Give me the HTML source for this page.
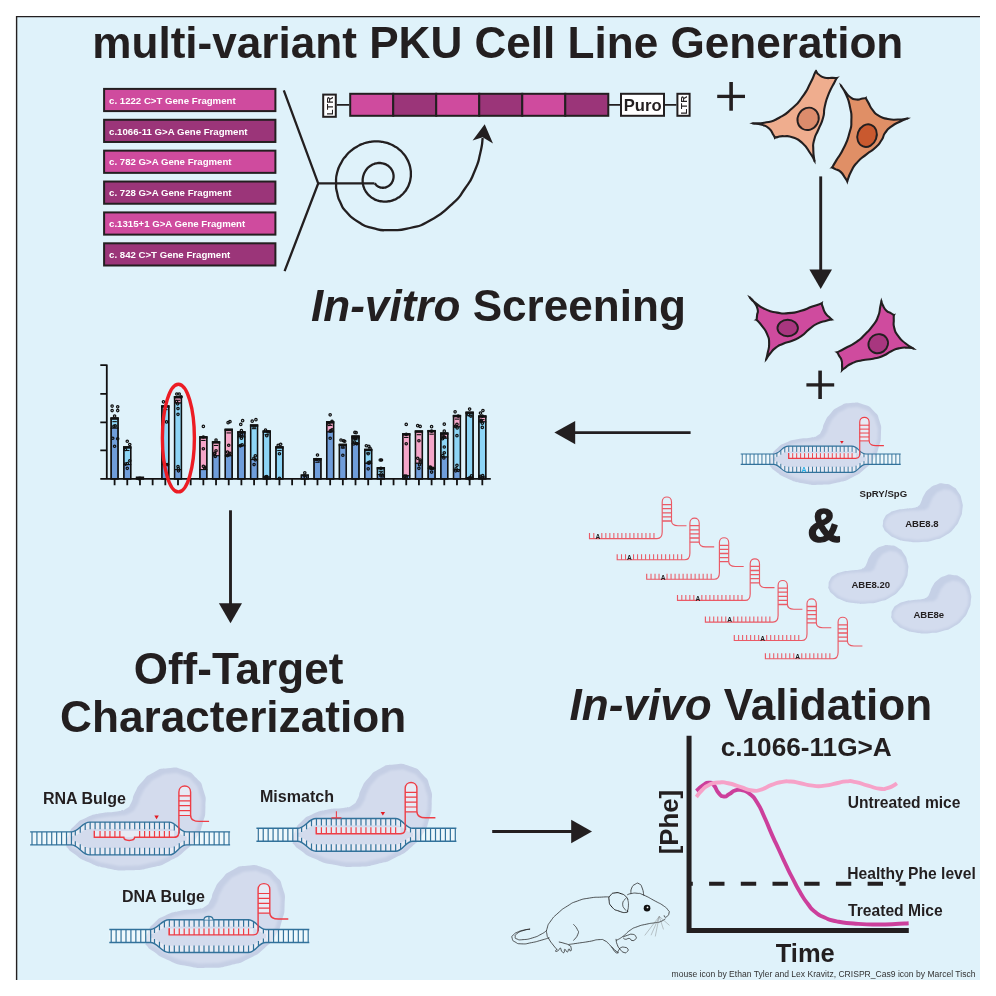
<!DOCTYPE html>
<html lang="en"><head><meta charset="utf-8"><title>multi-variant PKU Cell Line Generation</title>
<style>html,body{margin:0;padding:0;background:#fff}body{width:996px;height:996px;overflow:hidden}svg{display:block}text{font-family:"Liberation Sans",Arial,Helvetica,sans-serif}.b{font-weight:bold}.bi{font-weight:bold;font-style:italic}</style></head><body>
<svg width="996" height="996" viewBox="0 0 996 996">
<defs><filter id="bl" x="-10%" y="-10%" width="120%" height="120%"><feGaussianBlur stdDeviation="1.1"/></filter></defs>
<rect x="16" y="16" width="964" height="964" fill="#dff2fa"/>
<path d="M16.6 980V16.6H980" fill="none" stroke="#231f20" stroke-width="1.4"/>
<text class="b" x="92.3" y="58.4" font-size="44.1" fill="#231f20">multi-variant PKU Cell Line Generation</text>
<text x="311" y="320.6" font-size="44.1" fill="#231f20"><tspan class="bi">In-vitro</tspan><tspan class="b"> Screening</tspan></text>
<text class="b" x="133.7" y="684.1" font-size="44.05" fill="#231f20">Off-Target</text>
<text class="b" x="60.1" y="731.5" font-size="44.18" fill="#231f20">Characterization</text>
<text x="569.5" y="720" font-size="44.1" fill="#231f20"><tspan class="bi">In-vivo</tspan><tspan class="b"> Validation</tspan></text>
<rect x="104.1" y="88.9" width="171.3" height="22.2" fill="#cf4b9e" stroke="#231f20" stroke-width="2"/>
<text class="b" x="109.1" y="103.65" font-size="9.65" fill="#fff">c. 1222 C&gt;T Gene Fragment</text>
<rect x="104.1" y="119.78" width="171.3" height="22.2" fill="#9b3579" stroke="#231f20" stroke-width="2"/>
<text class="b" x="109.1" y="134.53" font-size="9.65" fill="#fff">c.1066-11 G&gt;A Gene Fragment</text>
<rect x="104.1" y="150.66" width="171.3" height="22.2" fill="#cf4b9e" stroke="#231f20" stroke-width="2"/>
<text class="b" x="109.1" y="165.41" font-size="9.65" fill="#fff">c. 782 G&gt;A Gene Fragment</text>
<rect x="104.1" y="181.54" width="171.3" height="22.2" fill="#9b3579" stroke="#231f20" stroke-width="2"/>
<text class="b" x="109.1" y="196.29" font-size="9.65" fill="#fff">c. 728 G&gt;A Gene Fragment</text>
<rect x="104.1" y="212.42" width="171.3" height="22.2" fill="#cf4b9e" stroke="#231f20" stroke-width="2"/>
<text class="b" x="109.1" y="227.17" font-size="9.65" fill="#fff">c.1315+1 G&gt;A Gene Fragment</text>
<rect x="104.1" y="243.3" width="171.3" height="22.2" fill="#9b3579" stroke="#231f20" stroke-width="2"/>
<text class="b" x="109.1" y="258.05" font-size="9.65" fill="#fff">c. 842 C&gt;T Gene Fragment</text>
<path d="M283.8 90.4L318.2 183.4L284.6 271.2M318.2 183.4H374.5" fill="none" stroke="#231f20" stroke-width="2.3" stroke-linejoin="miter"/>
<path d="M374.87 183.28C375.16 183.69 375.08 183.74 375.73 184.51C376.38 185.28 376.02 184.93 376.82 185.6C377.61 186.26 377.19 185.97 378.11 186.5C379.02 187.03 378.55 186.81 379.57 187.19C380.59 187.56 380.07 187.42 381.17 187.61C382.26 187.81 381.72 187.76 382.86 187.76C384 187.76 383.44 187.82 384.59 187.61C385.74 187.41 385.19 187.56 386.31 187.15C387.44 186.74 386.91 187 387.97 186.38C389.03 185.77 388.54 186.12 389.51 185.31C390.47 184.5 390.03 184.94 390.86 183.95C391.69 182.96 391.33 183.49 391.99 182.34C392.65 181.19 392.38 181.79 392.85 180.51C393.31 179.24 393.14 179.88 393.38 178.51C393.62 177.15 393.57 177.83 393.57 176.4C393.57 174.98 393.64 175.68 393.38 174.24C393.13 172.8 393.32 173.49 392.81 172.09C392.29 170.68 392.61 171.35 391.84 170.02C391.08 168.69 391.51 169.31 390.5 168.1C389.49 166.9 390.04 167.44 388.81 166.4C387.57 165.37 388.23 165.82 386.8 164.99C385.36 164.17 386.1 164.51 384.51 163.93C382.92 163.35 383.73 163.56 382.02 163.26C380.31 162.96 381.16 163.02 379.38 163.02C377.6 163.03 378.47 162.94 376.68 163.26C374.88 163.58 375.75 163.34 373.99 163.98C372.23 164.62 373.07 164.22 371.41 165.18C369.75 166.14 370.52 165.59 369.01 166.86C367.51 168.12 368.19 167.43 366.89 168.97C365.6 170.52 366.16 169.7 365.13 171.49C364.1 173.27 364.52 172.35 363.8 174.34C363.08 176.33 363.34 175.32 362.96 177.45C362.59 179.59 362.67 178.52 362.67 180.75C362.67 182.97 362.57 181.88 362.96 184.12C363.36 186.37 363.06 185.28 363.86 187.48C364.66 189.67 364.17 188.63 365.36 190.71C366.56 192.78 365.88 191.82 367.46 193.7C369.03 195.58 368.17 194.73 370.1 196.34C372.03 197.96 371.01 197.26 373.24 198.55C375.47 199.83 374.32 199.31 376.8 200.21C379.28 201.11 378.02 200.79 380.69 201.25C383.36 201.72 382.03 201.62 384.81 201.62C387.58 201.62 386.22 201.75 389.02 201.25C391.83 200.76 390.47 201.13 393.21 200.13C395.96 199.13 394.66 199.75 397.25 198.25C399.84 196.76 398.63 197.61 400.98 195.64C403.33 193.67 402.27 194.75 404.29 192.34C406.31 189.93 405.43 191.21 407.04 188.42C408.65 185.63 407.99 187.07 409.12 183.97C410.24 180.87 409.83 182.44 410.42 179.11C411.01 175.78 410.87 177.44 410.87 173.97C410.87 170.5 411.03 172.21 410.42 168.7C409.8 165.2 410.26 166.89 409.02 163.47C407.77 160.05 408.54 161.67 406.67 158.43C404.8 155.2 405.87 156.7 403.41 153.77C400.95 150.84 402.29 152.16 399.29 149.64C396.28 147.12 397.87 148.21 394.39 146.2C390.9 144.19 392.71 145.02 388.83 143.61C384.96 142.2 386.92 142.71 382.76 141.98C378.6 141.25 380.68 141.41 376.34 141.41C372.01 141.41 374.14 141.21 369.77 141.98C365.39 142.76 367.5 142.17 363.23 143.73C358.95 145.29 360.98 144.33 356.94 146.66C352.9 148.99 354.77 147.66 351.11 150.74C347.45 153.81 349.1 152.13 345.95 155.89C342.8 159.64 344.54 156.63 341.66 162C338.78 167.38 339.15 164.9 337.3 172C335.45 179.1 336.13 176.3 336.1 183.3C336.07 190.3 335.7 186.43 337.2 193C338.7 199.57 337.5 196.67 340.6 203C343.7 209.33 340.7 205.73 346.5 212C352.3 218.27 349.17 216.4 358 221.8C366.83 227.2 362.23 225.43 373 228.2C383.77 230.97 377.97 230.17 390.3 230.1C402.63 230.03 396.77 231.2 410 228C423.23 224.8 416.47 228.03 430 220.5C443.53 212.97 438.93 216.07 450.6 205.4C462.27 194.73 456.97 199.97 465 188.5C473.03 177.03 469.6 182.83 474.7 171C479.8 159.17 477.63 164 480.3 153C482.97 142 481.9 143 482.7 138" fill="none" stroke="#231f20" stroke-width="2.3"/>
<path d="M484.7 124.2L493 143.6L482.6 137.2L472.6 140.6Z" fill="#231f20"/>
<rect x="350.2" y="93.8" width="43.02" height="22" fill="#cf4b9e" stroke="#231f20" stroke-width="2"/>
<rect x="393.22" y="93.8" width="43.02" height="22" fill="#9b3579" stroke="#231f20" stroke-width="2"/>
<rect x="436.23" y="93.8" width="43.02" height="22" fill="#cf4b9e" stroke="#231f20" stroke-width="2"/>
<rect x="479.25" y="93.8" width="43.02" height="22" fill="#9b3579" stroke="#231f20" stroke-width="2"/>
<rect x="522.27" y="93.8" width="43.02" height="22" fill="#cf4b9e" stroke="#231f20" stroke-width="2"/>
<rect x="565.28" y="93.8" width="43.02" height="22" fill="#9b3579" stroke="#231f20" stroke-width="2"/>
<path d="M336.8 104.9H349.4M608.4 104.9H620.4M664.7 104.9H676.4" stroke="#231f20" stroke-width="1.9" fill="none"/>
<rect x="323.2" y="94.6" width="12.6" height="22.2" fill="#fff" stroke="#231f20" stroke-width="2"/>
<text class="b" transform="translate(333 115.2) rotate(-90)" font-size="9.6" letter-spacing="0.3" fill="#231f20">LTR</text>
<rect x="621" y="93.8" width="43" height="22" fill="#fff" stroke="#231f20" stroke-width="2"/>
<text class="b" x="623.8" y="110.9" font-size="16.6" fill="#231f20">Puro</text>
<rect x="677.4" y="93.8" width="12.2" height="22" fill="#fff" stroke="#231f20" stroke-width="2"/>
<text class="b" transform="translate(686.9 114.4) rotate(-90)" font-size="9.6" letter-spacing="0.3" fill="#231f20">LTR</text>
<path d="M717.2 96.4H745" stroke="#231f20" stroke-width="3.3" fill="none"/><path d="M731.1 82V110.7" stroke="#231f20" stroke-width="3.6" fill="none"/>
<path d="M806.4 384.9H834.2" stroke="#231f20" stroke-width="3.3" fill="none"/><path d="M820.1 370.6V399" stroke="#231f20" stroke-width="3.6" fill="none"/>
<path d="M753.23 123.4C757.67 123.04 757.88 124.22 766.55 122.33C775.22 120.43 770.78 122.33 779.24 117.71C787.71 113.09 784.24 115.4 791.94 108.48C799.63 101.55 796.17 105.4 802.33 96.93C808.48 88.47 806.25 90.97 810.41 83.08C814.56 75.2 812.86 77.19 814.79 73.27C816.72 69.35 815.73 71.97 816.19 71.32C817.15 72.47 816.18 72.66 819.06 74.77C821.94 76.89 820.41 76.62 824.83 77.66C829.26 78.7 828.44 77.74 832.34 77.89C836.23 78.04 835.13 78.04 836.52 78.11C835.9 79.39 837.19 76.81 834.64 81.93C832.1 87.05 832.14 85.39 828.87 93.47C825.6 101.55 826.76 98.09 824.83 106.17C822.91 114.25 825.22 110.02 823.1 117.71C820.99 125.4 821.45 121.94 818.49 129.25C815.52 136.56 815.95 132.71 814.22 139.64C812.48 146.57 813.22 143.03 813.29 150.03C813.36 157.03 814.04 157.1 814.42 160.63C813.08 158.25 814.44 159.33 810.41 153.49C806.38 147.65 808.1 148.41 802.33 143.1C796.56 137.79 799.25 139.87 793.09 137.56C786.94 135.25 789.05 136.33 783.86 136.18C778.67 136.02 780.5 136.6 777.51 137.1C774.52 137.6 775.77 137.48 774.9 137.67C774.42 136.79 775.49 138.14 773.47 135.02C771.46 131.91 772.7 131.71 768.86 128.33C765.01 124.94 767.14 126.51 761.93 124.87C756.72 123.22 756.13 123.89 753.23 123.4Z" fill="#efad8e" stroke="#231f20" stroke-width="2.1" stroke-linejoin="round"/>
<path d="M749.23 123.25L753.19 124.45L753.27 122.35ZM815.95 69.23L815.15 71.44L817.23 71.2ZM839.84 76.16L835.99 77.21L837.05 79.02ZM815.6 164.46L815.42 160.32L813.41 160.95ZM774.05 139.64L775.86 138.08L773.93 137.25Z" fill="#231f20"/>
<ellipse cx="808.1" cy="118.86" rx="10.39" ry="11.43" transform="rotate(30 808.1 118.86)" fill="#dc8c6c" stroke="#231f20" stroke-width="1.9"/>
<path d="M841.21 85.93C842.5 87.73 842.13 87.65 845.09 91.33C848.06 95.01 846.35 94.26 850.11 96.98C853.88 99.69 852.2 98.98 856.39 99.49C860.57 99.99 859.53 98.89 862.66 98.48C865.79 98.07 864.74 98.33 865.78 98.25C866.62 99.71 866 98.66 868.31 102.62C870.61 106.59 869.14 105.76 872.7 110.15C876.25 114.54 873.95 112.87 878.97 115.8C883.99 118.72 881.48 117.68 887.75 118.93C894.03 120.19 891.35 119.66 897.79 119.56C904.23 119.46 903.98 118.94 907.08 118.63C904.82 119.57 905.49 118.83 900.3 121.44C895.11 124.05 896.54 122.7 891.52 126.46C886.5 130.23 888.59 128.13 885.24 132.74C881.9 137.34 884.83 135.24 881.48 140.26C878.13 145.28 880.23 143.11 875.21 147.79C870.19 152.48 872.28 149.63 866.42 154.32C860.57 159 862.66 156.28 857.64 161.84C852.62 167.41 854.82 164.56 851.37 171C847.92 177.45 848.65 177.78 847.29 181.18C846.56 180.09 847.29 181 845.09 177.9C842.9 174.81 843.96 174.81 840.7 171.88C837.44 168.95 838.15 170.62 835.31 169.12C832.46 167.62 833.21 167.97 832.16 167.39C833.55 165.04 832.42 166.87 836.31 160.34C840.2 153.81 839.45 156.99 843.84 147.79C848.23 138.59 846.98 141.94 849.49 132.74C851.99 123.53 851.16 128.55 851.37 120.19C851.58 111.82 851.79 116.01 850.11 107.64C848.44 99.28 849.32 102.33 846.35 95.09C843.38 87.86 842.92 88.98 841.21 85.93Z" fill="#e08f66" stroke="#231f20" stroke-width="2.1" stroke-linejoin="round"/>
<path d="M839.07 82.55L840.32 86.49L842.1 85.37ZM866.68 96.1L864.81 97.85L866.75 98.66ZM910.97 117.68L906.83 117.61L907.33 119.65ZM847.35 184.81L848.34 181.16L846.24 181.19ZM829.41 168.49L832.55 168.37L831.77 166.42Z" fill="#231f20"/>
<ellipse cx="867.05" cy="135.62" rx="9.54" ry="11.54" transform="rotate(20 867.05 135.62)" fill="#c9592f" stroke="#231f20" stroke-width="1.9"/>
<path d="M750.03 297.7C751.7 299.32 750.04 298.77 755.06 302.57C760.09 306.37 757.74 305.75 765.1 309.1C772.46 312.44 769.45 311.27 777.15 312.61C784.85 313.95 780.5 313.61 788.19 313.11C795.89 312.61 792.21 313.28 800.24 311.1C808.27 308.93 805.17 309.13 812.29 306.59C819.41 304.04 818.5 304.5 821.6 303.46C822.01 304.67 821.59 303.87 822.83 307.09C824.08 310.3 823.17 309.77 825.34 313.11C827.52 316.46 827.29 315.02 829.36 317.13C831.42 319.24 830.81 318.67 831.53 319.45C829.8 319.85 831.09 319.24 826.35 320.64C821.6 322.04 823 320.81 817.31 323.65C811.62 326.5 814.63 324.99 809.28 329.18C803.92 333.36 806.93 332.36 801.24 336.2C795.56 340.05 798.23 338.21 792.21 340.72C786.18 343.23 788.53 341.49 783.17 343.73C777.82 345.98 780.5 344.2 776.14 347.45C771.79 350.7 773.43 349.57 770.12 353.47C766.82 357.38 767.53 357.26 766.23 359.16C766.69 357.2 766.65 358.58 767.61 353.27C768.57 347.96 769.28 349.59 769.12 343.23C768.95 336.87 769.45 339.89 767.11 334.2C764.77 328.51 765.58 330.98 762.09 326.16C758.6 321.35 758.46 321.89 756.64 319.75C756.79 318.21 756.76 318.67 757.07 315.12C757.38 311.57 758.57 313.45 757.57 309.1C756.57 304.75 756.57 305.87 754.06 302.07C751.54 298.27 751.37 299.16 750.03 297.7Z" fill="#cf4b9e" stroke="#231f20" stroke-width="2.1" stroke-linejoin="round"/>
<path d="M747.23 294.84L749.28 298.43L750.78 296.96ZM823.33 300.86L820.73 302.88L822.48 304.05ZM834.38 320.14L831.78 318.43L831.28 320.47ZM764.6 362.81L767.19 359.59L765.27 358.73ZM753.55 320.34L756.84 320.78L756.45 318.72Z" fill="#231f20"/>
<ellipse cx="787.69" cy="327.97" rx="10.24" ry="8.23" transform="rotate(0 787.69 327.97)" fill="#a8367f" stroke="#231f20" stroke-width="1.9"/>
<path d="M881.4 301.37C881.85 302.6 881.12 301.99 882.73 305.06C884.35 308.13 883.57 307.9 886.24 310.58C888.92 313.26 888.23 311.61 890.76 313.09C893.29 314.58 892.81 314.39 893.83 315.03C893.81 316.73 893.63 315.75 893.78 320.12C893.92 324.49 892.77 322.8 894.28 328.15C895.78 333.51 894.61 331.16 898.29 336.18C901.97 341.2 900.36 339.14 905.32 343.21C910.28 347.29 910.55 346.68 913.17 348.42C911.56 348.19 912.96 347.79 908.33 347.73C903.71 347.67 904.99 347.06 899.3 348.23C893.61 349.4 896.62 348.73 891.27 351.24C885.91 353.76 889.26 353.25 883.23 355.76C877.21 358.27 880.22 357.27 873.19 358.78C866.16 360.28 869.18 358.78 862.15 360.28C855.12 361.79 857.8 360.78 852.11 363.29C846.42 365.8 848.41 365.57 845.08 367.81C841.75 370.05 843.1 369.27 842.11 370.01C842.1 368.77 842.25 369.55 842.07 366.31C841.89 363.06 842.57 363.8 841.57 360.28C840.56 356.77 840.47 358.41 839.06 355.76C837.64 353.12 837.9 353.48 837.32 352.34C839.9 350.97 838.81 351.61 845.08 348.23C851.35 344.86 849.43 346.89 856.12 342.21C862.82 337.52 859.47 339.87 865.16 334.18C870.85 328.49 868.84 331.16 873.19 325.14C877.54 319.12 875.87 322.13 878.21 316.1C880.56 310.08 879.16 311.98 880.22 307.07C881.28 302.16 881.01 303.27 881.4 301.37Z" fill="#cf4b9e" stroke="#231f20" stroke-width="2.1" stroke-linejoin="round"/>
<path d="M881.22 297.53L880.35 301.41L882.45 301.32ZM896.08 313.59L893.27 314.15L894.4 315.92ZM916.87 349.94L913.57 347.45L912.77 349.39ZM840.56 373.13L843.05 370.47L841.17 369.54ZM834.24 351.75L837.12 353.37L837.52 351.31Z" fill="#231f20"/>
<ellipse cx="878.21" cy="343.71" rx="10.04" ry="9.34" transform="rotate(-35 878.21 343.71)" fill="#a8367f" stroke="#231f20" stroke-width="1.9"/>
<path d="M820.7 176.4V272" stroke="#231f20" stroke-width="2.9" fill="none"/>
<path d="M809.4 269.6H832L820.7 289Z" fill="#231f20"/>
<path d="M690.6 432.6H573" stroke="#231f20" stroke-width="2.9" fill="none"/>
<path d="M575.2 420.9V444.3L554.4 432.6Z" fill="#231f20"/>
<path d="M230.5 510.3V605" stroke="#231f20" stroke-width="2.9" fill="none"/>
<path d="M218.9 603.3H242L230.5 623.3Z" fill="#231f20"/>
<path d="M492.2 831.5H573" stroke="#231f20" stroke-width="2.9" fill="none"/>
<path d="M571.2 819.8V843.3L592 831.5Z" fill="#231f20"/>
<rect x="111.15" y="418.12" width="6.9" height="10.04" fill="#8dd5f6" stroke="#111" stroke-width="1.1"/>
<rect x="111.15" y="428.16" width="6.9" height="50.7" fill="#6f9dda" stroke="#111" stroke-width="1.1"/>
<rect x="111.15" y="418.12" width="6.9" height="60.74" fill="none" stroke="#111" stroke-width="1.45"/>
<path d="M110.45 418.62h8.3" stroke="#111" stroke-width="2.4" fill="none"/>
<rect x="123.83" y="446.99" width="6.9" height="17.57" fill="#8dd5f6" stroke="#111" stroke-width="1.1"/>
<rect x="123.83" y="464.56" width="6.9" height="14.31" fill="#6f9dda" stroke="#111" stroke-width="1.1"/>
<rect x="123.83" y="446.99" width="6.9" height="31.88" fill="none" stroke="#111" stroke-width="1.45"/>
<path d="M123.13 447.49h8.3" stroke="#111" stroke-width="2.4" fill="none"/>
<rect x="136.51" y="477.36" width="6.9" height="1.51" fill="#6f9dda" stroke="#111" stroke-width="1.1"/>
<rect x="136.51" y="477.36" width="6.9" height="1.51" fill="none" stroke="#111" stroke-width="1.45"/>
<rect x="161.87" y="406.07" width="6.9" height="58.48" fill="#8dd5f6" stroke="#111" stroke-width="1.1"/>
<rect x="161.87" y="464.56" width="6.9" height="14.31" fill="#6f9dda" stroke="#111" stroke-width="1.1"/>
<rect x="161.87" y="406.07" width="6.9" height="72.79" fill="none" stroke="#111" stroke-width="1.45"/>
<path d="M161.17 406.57h8.3" stroke="#111" stroke-width="2.4" fill="none"/>
<rect x="174.55" y="396.79" width="6.9" height="6.28" fill="#f5a6c9" stroke="#111" stroke-width="1.1"/>
<rect x="174.55" y="403.06" width="6.9" height="66.52" fill="#8dd5f6" stroke="#111" stroke-width="1.1"/>
<rect x="174.55" y="469.58" width="6.9" height="9.29" fill="#6f9dda" stroke="#111" stroke-width="1.1"/>
<rect x="174.55" y="396.79" width="6.9" height="82.08" fill="none" stroke="#111" stroke-width="1.45"/>
<path d="M173.85 397.29h8.3" stroke="#111" stroke-width="2.4" fill="none"/>
<rect x="199.91" y="436.95" width="6.9" height="32.63" fill="#f5a6c9" stroke="#111" stroke-width="1.1"/>
<rect x="199.91" y="469.58" width="6.9" height="9.29" fill="#6f9dda" stroke="#111" stroke-width="1.1"/>
<rect x="199.91" y="436.95" width="6.9" height="41.92" fill="none" stroke="#111" stroke-width="1.45"/>
<path d="M199.21 437.45h8.3" stroke="#111" stroke-width="2.4" fill="none"/>
<rect x="212.59" y="441.97" width="6.9" height="13.81" fill="#f5a6c9" stroke="#111" stroke-width="1.1"/>
<rect x="212.59" y="455.77" width="6.9" height="23.09" fill="#6f9dda" stroke="#111" stroke-width="1.1"/>
<rect x="212.59" y="441.97" width="6.9" height="36.9" fill="none" stroke="#111" stroke-width="1.45"/>
<path d="M211.89 442.47h8.3" stroke="#111" stroke-width="2.4" fill="none"/>
<rect x="225.27" y="429.42" width="6.9" height="26.36" fill="#f5a6c9" stroke="#111" stroke-width="1.1"/>
<rect x="225.27" y="455.77" width="6.9" height="23.09" fill="#6f9dda" stroke="#111" stroke-width="1.1"/>
<rect x="225.27" y="429.42" width="6.9" height="49.45" fill="none" stroke="#111" stroke-width="1.45"/>
<path d="M224.57 429.92h8.3" stroke="#111" stroke-width="2.4" fill="none"/>
<rect x="237.95" y="431.93" width="6.9" height="5.02" fill="#6f9dda" stroke="#111" stroke-width="1.1"/>
<rect x="237.95" y="436.95" width="6.9" height="8.79" fill="#8dd5f6" stroke="#111" stroke-width="1.1"/>
<rect x="237.95" y="445.73" width="6.9" height="33.13" fill="#6f9dda" stroke="#111" stroke-width="1.1"/>
<rect x="237.95" y="431.93" width="6.9" height="46.94" fill="none" stroke="#111" stroke-width="1.45"/>
<path d="M237.25 432.43h8.3" stroke="#111" stroke-width="2.4" fill="none"/>
<rect x="250.63" y="425.15" width="6.9" height="34.39" fill="#8dd5f6" stroke="#111" stroke-width="1.1"/>
<rect x="250.63" y="459.54" width="6.9" height="19.33" fill="#6f9dda" stroke="#111" stroke-width="1.1"/>
<rect x="250.63" y="425.15" width="6.9" height="53.71" fill="none" stroke="#111" stroke-width="1.45"/>
<path d="M249.93 425.65h8.3" stroke="#111" stroke-width="2.4" fill="none"/>
<rect x="263.31" y="431.17" width="6.9" height="45.93" fill="#8dd5f6" stroke="#111" stroke-width="1.1"/>
<rect x="263.31" y="477.11" width="6.9" height="1.76" fill="#6f9dda" stroke="#111" stroke-width="1.1"/>
<rect x="263.31" y="431.17" width="6.9" height="47.69" fill="none" stroke="#111" stroke-width="1.45"/>
<path d="M262.61 431.67h8.3" stroke="#111" stroke-width="2.4" fill="none"/>
<rect x="275.99" y="446.99" width="6.9" height="31.88" fill="#8dd5f6" stroke="#111" stroke-width="1.1"/>
<rect x="275.99" y="446.99" width="6.9" height="31.88" fill="none" stroke="#111" stroke-width="1.45"/>
<path d="M275.29 447.49h8.3" stroke="#111" stroke-width="2.4" fill="none"/>
<rect x="301.35" y="475.1" width="6.9" height="3.77" fill="#6f9dda" stroke="#111" stroke-width="1.1"/>
<rect x="301.35" y="475.1" width="6.9" height="3.77" fill="none" stroke="#111" stroke-width="1.45"/>
<rect x="314.03" y="458.78" width="6.9" height="20.08" fill="#6f9dda" stroke="#111" stroke-width="1.1"/>
<rect x="314.03" y="458.78" width="6.9" height="20.08" fill="none" stroke="#111" stroke-width="1.45"/>
<path d="M313.33 459.28h8.3" stroke="#111" stroke-width="2.4" fill="none"/>
<rect x="326.71" y="421.89" width="6.9" height="10.04" fill="#f5a6c9" stroke="#111" stroke-width="1.1"/>
<rect x="326.71" y="431.93" width="6.9" height="46.94" fill="#6f9dda" stroke="#111" stroke-width="1.1"/>
<rect x="326.71" y="421.89" width="6.9" height="56.98" fill="none" stroke="#111" stroke-width="1.45"/>
<path d="M326.01 422.39h8.3" stroke="#111" stroke-width="2.4" fill="none"/>
<rect x="339.39" y="444.48" width="6.9" height="34.39" fill="#6f9dda" stroke="#111" stroke-width="1.1"/>
<rect x="339.39" y="444.48" width="6.9" height="34.39" fill="none" stroke="#111" stroke-width="1.45"/>
<path d="M338.69 444.98h8.3" stroke="#111" stroke-width="2.4" fill="none"/>
<rect x="352.07" y="436.19" width="6.9" height="2.01" fill="#6f9dda" stroke="#111" stroke-width="1.1"/>
<rect x="352.07" y="438.2" width="6.9" height="5.52" fill="#8dd5f6" stroke="#111" stroke-width="1.1"/>
<rect x="352.07" y="443.72" width="6.9" height="35.14" fill="#6f9dda" stroke="#111" stroke-width="1.1"/>
<rect x="352.07" y="436.19" width="6.9" height="42.67" fill="none" stroke="#111" stroke-width="1.45"/>
<path d="M351.37 436.69h8.3" stroke="#111" stroke-width="2.4" fill="none"/>
<rect x="364.75" y="449.5" width="6.9" height="13.81" fill="#8dd5f6" stroke="#111" stroke-width="1.1"/>
<rect x="364.75" y="463.3" width="6.9" height="15.56" fill="#6f9dda" stroke="#111" stroke-width="1.1"/>
<rect x="364.75" y="449.5" width="6.9" height="29.37" fill="none" stroke="#111" stroke-width="1.45"/>
<path d="M364.05 450h8.3" stroke="#111" stroke-width="2.4" fill="none"/>
<rect x="377.43" y="467.82" width="6.9" height="6.78" fill="#8dd5f6" stroke="#111" stroke-width="1.1"/>
<rect x="377.43" y="474.6" width="6.9" height="4.27" fill="#6f9dda" stroke="#111" stroke-width="1.1"/>
<rect x="377.43" y="467.82" width="6.9" height="11.04" fill="none" stroke="#111" stroke-width="1.45"/>
<path d="M376.73 468.32h8.3" stroke="#111" stroke-width="2.4" fill="none"/>
<rect x="402.79" y="433.93" width="6.9" height="41.92" fill="#f5a6c9" stroke="#111" stroke-width="1.1"/>
<rect x="402.79" y="475.85" width="6.9" height="3.01" fill="#6f9dda" stroke="#111" stroke-width="1.1"/>
<rect x="402.79" y="433.93" width="6.9" height="44.93" fill="none" stroke="#111" stroke-width="1.45"/>
<path d="M402.09 434.43h8.3" stroke="#111" stroke-width="2.4" fill="none"/>
<rect x="415.47" y="431.17" width="6.9" height="32.13" fill="#f5a6c9" stroke="#111" stroke-width="1.1"/>
<rect x="415.47" y="463.3" width="6.9" height="15.56" fill="#6f9dda" stroke="#111" stroke-width="1.1"/>
<rect x="415.47" y="431.17" width="6.9" height="47.69" fill="none" stroke="#111" stroke-width="1.45"/>
<path d="M414.77 431.67h8.3" stroke="#111" stroke-width="2.4" fill="none"/>
<rect x="428.15" y="430.67" width="6.9" height="37.65" fill="#f5a6c9" stroke="#111" stroke-width="1.1"/>
<rect x="428.15" y="468.32" width="6.9" height="10.54" fill="#6f9dda" stroke="#111" stroke-width="1.1"/>
<rect x="428.15" y="430.67" width="6.9" height="48.19" fill="none" stroke="#111" stroke-width="1.45"/>
<path d="M427.45 431.17h8.3" stroke="#111" stroke-width="2.4" fill="none"/>
<rect x="440.83" y="433.18" width="6.9" height="5.02" fill="#f5a6c9" stroke="#111" stroke-width="1.1"/>
<rect x="440.83" y="438.2" width="6.9" height="18.83" fill="#8dd5f6" stroke="#111" stroke-width="1.1"/>
<rect x="440.83" y="457.03" width="6.9" height="21.84" fill="#6f9dda" stroke="#111" stroke-width="1.1"/>
<rect x="440.83" y="433.18" width="6.9" height="45.68" fill="none" stroke="#111" stroke-width="1.45"/>
<path d="M440.13 433.68h8.3" stroke="#111" stroke-width="2.4" fill="none"/>
<rect x="453.51" y="415.61" width="6.9" height="11.3" fill="#f5a6c9" stroke="#111" stroke-width="1.1"/>
<rect x="453.51" y="426.91" width="6.9" height="42.67" fill="#8dd5f6" stroke="#111" stroke-width="1.1"/>
<rect x="453.51" y="469.58" width="6.9" height="9.29" fill="#6f9dda" stroke="#111" stroke-width="1.1"/>
<rect x="453.51" y="415.61" width="6.9" height="63.25" fill="none" stroke="#111" stroke-width="1.45"/>
<path d="M452.81 416.11h8.3" stroke="#111" stroke-width="2.4" fill="none"/>
<rect x="466.19" y="412.35" width="6.9" height="65.26" fill="#8dd5f6" stroke="#111" stroke-width="1.1"/>
<rect x="466.19" y="477.61" width="6.9" height="1.26" fill="#6f9dda" stroke="#111" stroke-width="1.1"/>
<rect x="466.19" y="412.35" width="6.9" height="66.52" fill="none" stroke="#111" stroke-width="1.45"/>
<path d="M465.49 412.85h8.3" stroke="#111" stroke-width="2.4" fill="none"/>
<rect x="478.87" y="416.11" width="6.9" height="5.77" fill="#f5a6c9" stroke="#111" stroke-width="1.1"/>
<rect x="478.87" y="421.89" width="6.9" height="55.22" fill="#8dd5f6" stroke="#111" stroke-width="1.1"/>
<rect x="478.87" y="477.11" width="6.9" height="1.76" fill="#6f9dda" stroke="#111" stroke-width="1.1"/>
<rect x="478.87" y="416.11" width="6.9" height="62.75" fill="none" stroke="#111" stroke-width="1.45"/>
<path d="M478.17 416.61h8.3" stroke="#111" stroke-width="2.4" fill="none"/>
<path d="M106.8 364.6V478.9M100.3 478.9H490.8M100.3 365.1H106.8M100.3 393.9H106.8M100.3 422.3H106.8M100.3 450.4H106.8M114.6 478.9V485.2M127.28 478.9V485.2M139.96 478.9V485.2M152.64 478.9V485.2M165.32 478.9V485.2M178 478.9V485.2M190.68 478.9V485.2M203.36 478.9V485.2M216.04 478.9V485.2M228.72 478.9V485.2M241.4 478.9V485.2M254.08 478.9V485.2M266.76 478.9V485.2M279.44 478.9V485.2M292.12 478.9V485.2M304.8 478.9V485.2M317.48 478.9V485.2M330.16 478.9V485.2M342.84 478.9V485.2M355.52 478.9V485.2M368.2 478.9V485.2M380.88 478.9V485.2M393.56 478.9V485.2M406.24 478.9V485.2M418.92 478.9V485.2M431.6 478.9V485.2M444.28 478.9V485.2M456.96 478.9V485.2M469.64 478.9V485.2M482.32 478.9V485.2" fill="none" stroke="#111" stroke-width="1.8"/>
<circle cx="112.12" cy="406.07" r="1.2" fill="none" stroke="#111" stroke-width="1.25"/>
<circle cx="117.7" cy="406.83" r="1.2" fill="none" stroke="#111" stroke-width="1.25"/>
<circle cx="112.12" cy="410.59" r="1.2" fill="none" stroke="#111" stroke-width="1.25"/>
<circle cx="117.7" cy="410.59" r="1.2" fill="none" stroke="#111" stroke-width="1.25"/>
<circle cx="114.6" cy="416.11" r="1.2" fill="none" stroke="#111" stroke-width="1.25"/>
<circle cx="112.74" cy="438.2" r="1.2" fill="none" stroke="#111" stroke-width="1.25"/>
<circle cx="117.7" cy="438.7" r="1.2" fill="none" stroke="#111" stroke-width="1.25"/>
<circle cx="114.6" cy="446.23" r="1.2" fill="none" stroke="#111" stroke-width="1.25"/>
<circle cx="127.28" cy="441.21" r="1.2" fill="none" stroke="#111" stroke-width="1.25"/>
<circle cx="129.76" cy="444.48" r="1.2" fill="none" stroke="#111" stroke-width="1.25"/>
<circle cx="125.42" cy="449.5" r="1.2" fill="none" stroke="#111" stroke-width="1.25"/>
<circle cx="129.76" cy="460.79" r="1.2" fill="none" stroke="#111" stroke-width="1.25"/>
<circle cx="127.28" cy="468.32" r="1.2" fill="none" stroke="#111" stroke-width="1.25"/>
<circle cx="139.96" cy="478.36" r="1.2" fill="none" stroke="#111" stroke-width="1.25"/>
<circle cx="138.72" cy="478.61" r="1.2" fill="none" stroke="#111" stroke-width="1.25"/>
<circle cx="163.46" cy="401.81" r="1.2" fill="none" stroke="#111" stroke-width="1.25"/>
<circle cx="166.56" cy="421.89" r="1.2" fill="none" stroke="#111" stroke-width="1.25"/>
<circle cx="167.18" cy="464.56" r="1.2" fill="none" stroke="#111" stroke-width="1.25"/>
<circle cx="176.76" cy="394.02" r="1.2" fill="none" stroke="#111" stroke-width="1.25"/>
<circle cx="179.24" cy="394.02" r="1.2" fill="none" stroke="#111" stroke-width="1.25"/>
<circle cx="181.1" cy="396.79" r="1.2" fill="none" stroke="#111" stroke-width="1.25"/>
<circle cx="178" cy="408.58" r="1.2" fill="none" stroke="#111" stroke-width="1.25"/>
<circle cx="178" cy="414.36" r="1.2" fill="none" stroke="#111" stroke-width="1.25"/>
<circle cx="178" cy="466.56" r="1.2" fill="none" stroke="#111" stroke-width="1.25"/>
<circle cx="203.36" cy="426.4" r="1.2" fill="none" stroke="#111" stroke-width="1.25"/>
<circle cx="203.36" cy="436.95" r="1.2" fill="none" stroke="#111" stroke-width="1.25"/>
<circle cx="203.36" cy="448.74" r="1.2" fill="none" stroke="#111" stroke-width="1.25"/>
<circle cx="203.36" cy="466.31" r="1.2" fill="none" stroke="#111" stroke-width="1.25"/>
<circle cx="216.04" cy="439.96" r="1.2" fill="none" stroke="#111" stroke-width="1.25"/>
<circle cx="216.04" cy="450.75" r="1.2" fill="none" stroke="#111" stroke-width="1.25"/>
<circle cx="214.8" cy="453.26" r="1.2" fill="none" stroke="#111" stroke-width="1.25"/>
<circle cx="228.1" cy="422.64" r="1.2" fill="none" stroke="#111" stroke-width="1.25"/>
<circle cx="229.96" cy="421.64" r="1.2" fill="none" stroke="#111" stroke-width="1.25"/>
<circle cx="228.72" cy="445.23" r="1.2" fill="none" stroke="#111" stroke-width="1.25"/>
<circle cx="227.48" cy="452.01" r="1.2" fill="none" stroke="#111" stroke-width="1.25"/>
<circle cx="229.96" cy="453.26" r="1.2" fill="none" stroke="#111" stroke-width="1.25"/>
<circle cx="242.64" cy="420.63" r="1.2" fill="none" stroke="#111" stroke-width="1.25"/>
<circle cx="240.78" cy="424.4" r="1.2" fill="none" stroke="#111" stroke-width="1.25"/>
<circle cx="241.4" cy="430.67" r="1.2" fill="none" stroke="#111" stroke-width="1.25"/>
<circle cx="241.4" cy="438.2" r="1.2" fill="none" stroke="#111" stroke-width="1.25"/>
<circle cx="240.16" cy="445.73" r="1.2" fill="none" stroke="#111" stroke-width="1.25"/>
<circle cx="252.22" cy="421.13" r="1.2" fill="none" stroke="#111" stroke-width="1.25"/>
<circle cx="255.94" cy="419.63" r="1.2" fill="none" stroke="#111" stroke-width="1.25"/>
<circle cx="254.08" cy="426.91" r="1.2" fill="none" stroke="#111" stroke-width="1.25"/>
<circle cx="255.32" cy="455.77" r="1.2" fill="none" stroke="#111" stroke-width="1.25"/>
<circle cx="254.08" cy="464.56" r="1.2" fill="none" stroke="#111" stroke-width="1.25"/>
<circle cx="265.52" cy="430.17" r="1.2" fill="none" stroke="#111" stroke-width="1.25"/>
<circle cx="268" cy="431.93" r="1.2" fill="none" stroke="#111" stroke-width="1.25"/>
<circle cx="266.76" cy="435.69" r="1.2" fill="none" stroke="#111" stroke-width="1.25"/>
<circle cx="266.76" cy="476.61" r="1.2" fill="none" stroke="#111" stroke-width="1.25"/>
<circle cx="278.2" cy="445.23" r="1.2" fill="none" stroke="#111" stroke-width="1.25"/>
<circle cx="280.68" cy="444.23" r="1.2" fill="none" stroke="#111" stroke-width="1.25"/>
<circle cx="279.44" cy="453.76" r="1.2" fill="none" stroke="#111" stroke-width="1.25"/>
<circle cx="279.44" cy="478.36" r="1.2" fill="none" stroke="#111" stroke-width="1.25"/>
<circle cx="304.8" cy="472.84" r="1.2" fill="none" stroke="#111" stroke-width="1.25"/>
<circle cx="304.18" cy="475.85" r="1.2" fill="none" stroke="#111" stroke-width="1.25"/>
<circle cx="305.42" cy="477.36" r="1.2" fill="none" stroke="#111" stroke-width="1.25"/>
<circle cx="317.48" cy="455.02" r="1.2" fill="none" stroke="#111" stroke-width="1.25"/>
<circle cx="316.24" cy="459.54" r="1.2" fill="none" stroke="#111" stroke-width="1.25"/>
<circle cx="318.72" cy="460.04" r="1.2" fill="none" stroke="#111" stroke-width="1.25"/>
<circle cx="330.16" cy="414.86" r="1.2" fill="none" stroke="#111" stroke-width="1.25"/>
<circle cx="332.02" cy="421.38" r="1.2" fill="none" stroke="#111" stroke-width="1.25"/>
<circle cx="328.92" cy="424.4" r="1.2" fill="none" stroke="#111" stroke-width="1.25"/>
<circle cx="330.16" cy="431.17" r="1.2" fill="none" stroke="#111" stroke-width="1.25"/>
<circle cx="330.16" cy="438.2" r="1.2" fill="none" stroke="#111" stroke-width="1.25"/>
<circle cx="340.98" cy="439.96" r="1.2" fill="none" stroke="#111" stroke-width="1.25"/>
<circle cx="343.46" cy="440.71" r="1.2" fill="none" stroke="#111" stroke-width="1.25"/>
<circle cx="344.7" cy="441.21" r="1.2" fill="none" stroke="#111" stroke-width="1.25"/>
<circle cx="342.84" cy="446.99" r="1.2" fill="none" stroke="#111" stroke-width="1.25"/>
<circle cx="342.84" cy="455.27" r="1.2" fill="none" stroke="#111" stroke-width="1.25"/>
<circle cx="354.9" cy="432.43" r="1.2" fill="none" stroke="#111" stroke-width="1.25"/>
<circle cx="356.14" cy="432.68" r="1.2" fill="none" stroke="#111" stroke-width="1.25"/>
<circle cx="355.52" cy="438.2" r="1.2" fill="none" stroke="#111" stroke-width="1.25"/>
<circle cx="354.28" cy="441.97" r="1.2" fill="none" stroke="#111" stroke-width="1.25"/>
<circle cx="356.76" cy="443.72" r="1.2" fill="none" stroke="#111" stroke-width="1.25"/>
<circle cx="366.34" cy="445.73" r="1.2" fill="none" stroke="#111" stroke-width="1.25"/>
<circle cx="368.82" cy="446.23" r="1.2" fill="none" stroke="#111" stroke-width="1.25"/>
<circle cx="370.06" cy="448.24" r="1.2" fill="none" stroke="#111" stroke-width="1.25"/>
<circle cx="368.2" cy="453.76" r="1.2" fill="none" stroke="#111" stroke-width="1.25"/>
<circle cx="368.2" cy="462.8" r="1.2" fill="none" stroke="#111" stroke-width="1.25"/>
<circle cx="368.2" cy="468.82" r="1.2" fill="none" stroke="#111" stroke-width="1.25"/>
<circle cx="380.26" cy="460.04" r="1.2" fill="none" stroke="#111" stroke-width="1.25"/>
<circle cx="381.5" cy="460.04" r="1.2" fill="none" stroke="#111" stroke-width="1.25"/>
<circle cx="380.88" cy="468.32" r="1.2" fill="none" stroke="#111" stroke-width="1.25"/>
<circle cx="380.88" cy="475.85" r="1.2" fill="none" stroke="#111" stroke-width="1.25"/>
<circle cx="406.24" cy="424.4" r="1.2" fill="none" stroke="#111" stroke-width="1.25"/>
<circle cx="406.24" cy="434.44" r="1.2" fill="none" stroke="#111" stroke-width="1.25"/>
<circle cx="406.24" cy="443.72" r="1.2" fill="none" stroke="#111" stroke-width="1.25"/>
<circle cx="406.24" cy="477.11" r="1.2" fill="none" stroke="#111" stroke-width="1.25"/>
<circle cx="417.68" cy="425.65" r="1.2" fill="none" stroke="#111" stroke-width="1.25"/>
<circle cx="420.16" cy="426.4" r="1.2" fill="none" stroke="#111" stroke-width="1.25"/>
<circle cx="418.92" cy="440.71" r="1.2" fill="none" stroke="#111" stroke-width="1.25"/>
<circle cx="417.68" cy="458.28" r="1.2" fill="none" stroke="#111" stroke-width="1.25"/>
<circle cx="420.16" cy="460.04" r="1.2" fill="none" stroke="#111" stroke-width="1.25"/>
<circle cx="418.92" cy="468.32" r="1.2" fill="none" stroke="#111" stroke-width="1.25"/>
<circle cx="431.6" cy="426.66" r="1.2" fill="none" stroke="#111" stroke-width="1.25"/>
<circle cx="431.6" cy="431.17" r="1.2" fill="none" stroke="#111" stroke-width="1.25"/>
<circle cx="430.36" cy="467.07" r="1.2" fill="none" stroke="#111" stroke-width="1.25"/>
<circle cx="432.84" cy="468.32" r="1.2" fill="none" stroke="#111" stroke-width="1.25"/>
<circle cx="431.6" cy="472.09" r="1.2" fill="none" stroke="#111" stroke-width="1.25"/>
<circle cx="444.28" cy="424.15" r="1.2" fill="none" stroke="#111" stroke-width="1.25"/>
<circle cx="444.28" cy="431.17" r="1.2" fill="none" stroke="#111" stroke-width="1.25"/>
<circle cx="444.28" cy="436.95" r="1.2" fill="none" stroke="#111" stroke-width="1.25"/>
<circle cx="444.28" cy="446.99" r="1.2" fill="none" stroke="#111" stroke-width="1.25"/>
<circle cx="444.28" cy="452.76" r="1.2" fill="none" stroke="#111" stroke-width="1.25"/>
<circle cx="455.1" cy="411.85" r="1.2" fill="none" stroke="#111" stroke-width="1.25"/>
<circle cx="458.2" cy="416.11" r="1.2" fill="none" stroke="#111" stroke-width="1.25"/>
<circle cx="456.96" cy="424.4" r="1.2" fill="none" stroke="#111" stroke-width="1.25"/>
<circle cx="456.96" cy="435.69" r="1.2" fill="none" stroke="#111" stroke-width="1.25"/>
<circle cx="456.96" cy="465.31" r="1.2" fill="none" stroke="#111" stroke-width="1.25"/>
<circle cx="455.72" cy="470.83" r="1.2" fill="none" stroke="#111" stroke-width="1.25"/>
<circle cx="469.64" cy="409.08" r="1.2" fill="none" stroke="#111" stroke-width="1.25"/>
<circle cx="468.4" cy="414.36" r="1.2" fill="none" stroke="#111" stroke-width="1.25"/>
<circle cx="470.88" cy="416.11" r="1.2" fill="none" stroke="#111" stroke-width="1.25"/>
<circle cx="469.64" cy="477.86" r="1.2" fill="none" stroke="#111" stroke-width="1.25"/>
<circle cx="480.46" cy="413.1" r="1.2" fill="none" stroke="#111" stroke-width="1.25"/>
<circle cx="482.94" cy="410.59" r="1.2" fill="none" stroke="#111" stroke-width="1.25"/>
<circle cx="482.32" cy="416.11" r="1.2" fill="none" stroke="#111" stroke-width="1.25"/>
<circle cx="482.32" cy="423.14" r="1.2" fill="none" stroke="#111" stroke-width="1.25"/>
<circle cx="482.32" cy="427.41" r="1.2" fill="none" stroke="#111" stroke-width="1.25"/>
<circle cx="482.32" cy="477.61" r="1.2" fill="none" stroke="#111" stroke-width="1.25"/>
<circle cx="113.9" cy="426.26" r="1.2" fill="none" stroke="#111" stroke-width="1.25"/>
<circle cx="115.2" cy="425.94" r="1.2" fill="none" stroke="#111" stroke-width="1.25"/>
<path d="M112.4 421.64h4.4" stroke="#111" stroke-width="1.1" fill="none"/>
<circle cx="127.42" cy="463.52" r="1.2" fill="none" stroke="#111" stroke-width="1.25"/>
<circle cx="125.51" cy="464.08" r="1.2" fill="none" stroke="#111" stroke-width="1.25"/>
<path d="M125.08 450.5h4.4" stroke="#111" stroke-width="1.1" fill="none"/>
<circle cx="163.47" cy="463.79" r="1.2" fill="none" stroke="#111" stroke-width="1.25"/>
<circle cx="163.6" cy="462.41" r="1.2" fill="none" stroke="#111" stroke-width="1.25"/>
<path d="M163.12 409.59h4.4" stroke="#111" stroke-width="1.1" fill="none"/>
<circle cx="177.7" cy="403.87" r="1.2" fill="none" stroke="#111" stroke-width="1.25"/>
<circle cx="176.5" cy="401.45" r="1.2" fill="none" stroke="#111" stroke-width="1.25"/>
<circle cx="178.51" cy="470.87" r="1.2" fill="none" stroke="#111" stroke-width="1.25"/>
<circle cx="178.31" cy="468.66" r="1.2" fill="none" stroke="#111" stroke-width="1.25"/>
<path d="M175.8 400.3h4.4" stroke="#111" stroke-width="1.1" fill="none"/>
<circle cx="205.27" cy="467.25" r="1.2" fill="none" stroke="#111" stroke-width="1.25"/>
<circle cx="204.79" cy="468.23" r="1.2" fill="none" stroke="#111" stroke-width="1.25"/>
<path d="M201.16 440.46h4.4" stroke="#111" stroke-width="1.1" fill="none"/>
<circle cx="214.62" cy="453.73" r="1.2" fill="none" stroke="#111" stroke-width="1.25"/>
<circle cx="215.27" cy="456.54" r="1.2" fill="none" stroke="#111" stroke-width="1.25"/>
<path d="M213.84 445.48h4.4" stroke="#111" stroke-width="1.1" fill="none"/>
<circle cx="227.44" cy="455.6" r="1.2" fill="none" stroke="#111" stroke-width="1.25"/>
<circle cx="229.28" cy="454.76" r="1.2" fill="none" stroke="#111" stroke-width="1.25"/>
<path d="M226.52 432.93h4.4" stroke="#111" stroke-width="1.1" fill="none"/>
<circle cx="241.59" cy="434.69" r="1.2" fill="none" stroke="#111" stroke-width="1.25"/>
<circle cx="239.64" cy="435.26" r="1.2" fill="none" stroke="#111" stroke-width="1.25"/>
<circle cx="242.12" cy="444.94" r="1.2" fill="none" stroke="#111" stroke-width="1.25"/>
<circle cx="240.66" cy="445.57" r="1.2" fill="none" stroke="#111" stroke-width="1.25"/>
<path d="M239.2 435.44h4.4" stroke="#111" stroke-width="1.1" fill="none"/>
<circle cx="253.89" cy="458.23" r="1.2" fill="none" stroke="#111" stroke-width="1.25"/>
<circle cx="255.26" cy="459.83" r="1.2" fill="none" stroke="#111" stroke-width="1.25"/>
<path d="M251.88 428.66h4.4" stroke="#111" stroke-width="1.1" fill="none"/>
<circle cx="265.74" cy="476.9" r="1.2" fill="none" stroke="#111" stroke-width="1.25"/>
<circle cx="266.86" cy="478.11" r="1.2" fill="none" stroke="#111" stroke-width="1.25"/>
<path d="M264.56 434.69h4.4" stroke="#111" stroke-width="1.1" fill="none"/>
<path d="M277.24 450.5h4.4" stroke="#111" stroke-width="1.1" fill="none"/>
<path d="M315.28 462.3h4.4" stroke="#111" stroke-width="1.1" fill="none"/>
<circle cx="331.08" cy="430.57" r="1.2" fill="none" stroke="#111" stroke-width="1.25"/>
<circle cx="332.08" cy="429.89" r="1.2" fill="none" stroke="#111" stroke-width="1.25"/>
<path d="M327.96 425.4h4.4" stroke="#111" stroke-width="1.1" fill="none"/>
<path d="M340.64 447.99h4.4" stroke="#111" stroke-width="1.1" fill="none"/>
<circle cx="355.19" cy="438.73" r="1.2" fill="none" stroke="#111" stroke-width="1.25"/>
<circle cx="354.13" cy="437.66" r="1.2" fill="none" stroke="#111" stroke-width="1.25"/>
<circle cx="353.68" cy="443.9" r="1.2" fill="none" stroke="#111" stroke-width="1.25"/>
<circle cx="356.58" cy="443.51" r="1.2" fill="none" stroke="#111" stroke-width="1.25"/>
<path d="M353.32 439.71h4.4" stroke="#111" stroke-width="1.1" fill="none"/>
<circle cx="369.7" cy="462.05" r="1.2" fill="none" stroke="#111" stroke-width="1.25"/>
<circle cx="368.98" cy="463.18" r="1.2" fill="none" stroke="#111" stroke-width="1.25"/>
<path d="M366 453.01h4.4" stroke="#111" stroke-width="1.1" fill="none"/>
<circle cx="381.2" cy="473.92" r="1.2" fill="none" stroke="#111" stroke-width="1.25"/>
<circle cx="382.24" cy="475.88" r="1.2" fill="none" stroke="#111" stroke-width="1.25"/>
<path d="M378.68 471.33h4.4" stroke="#111" stroke-width="1.1" fill="none"/>
<circle cx="406.14" cy="476.01" r="1.2" fill="none" stroke="#111" stroke-width="1.25"/>
<circle cx="404.48" cy="476.16" r="1.2" fill="none" stroke="#111" stroke-width="1.25"/>
<path d="M404.04 437.45h4.4" stroke="#111" stroke-width="1.1" fill="none"/>
<circle cx="419.51" cy="464.78" r="1.2" fill="none" stroke="#111" stroke-width="1.25"/>
<circle cx="420.21" cy="461.93" r="1.2" fill="none" stroke="#111" stroke-width="1.25"/>
<path d="M416.72 434.69h4.4" stroke="#111" stroke-width="1.1" fill="none"/>
<circle cx="431.14" cy="468.5" r="1.2" fill="none" stroke="#111" stroke-width="1.25"/>
<circle cx="429.69" cy="467.67" r="1.2" fill="none" stroke="#111" stroke-width="1.25"/>
<path d="M429.4 434.19h4.4" stroke="#111" stroke-width="1.1" fill="none"/>
<circle cx="442.95" cy="436.16" r="1.2" fill="none" stroke="#111" stroke-width="1.25"/>
<circle cx="442.52" cy="438.78" r="1.2" fill="none" stroke="#111" stroke-width="1.25"/>
<circle cx="442.8" cy="455.51" r="1.2" fill="none" stroke="#111" stroke-width="1.25"/>
<circle cx="443.84" cy="458.02" r="1.2" fill="none" stroke="#111" stroke-width="1.25"/>
<path d="M442.08 436.7h4.4" stroke="#111" stroke-width="1.1" fill="none"/>
<circle cx="455.28" cy="426.2" r="1.2" fill="none" stroke="#111" stroke-width="1.25"/>
<circle cx="457.16" cy="427.94" r="1.2" fill="none" stroke="#111" stroke-width="1.25"/>
<circle cx="458.24" cy="470.54" r="1.2" fill="none" stroke="#111" stroke-width="1.25"/>
<circle cx="456.07" cy="468.73" r="1.2" fill="none" stroke="#111" stroke-width="1.25"/>
<path d="M454.76 419.13h4.4" stroke="#111" stroke-width="1.1" fill="none"/>
<circle cx="469.08" cy="478.65" r="1.2" fill="none" stroke="#111" stroke-width="1.25"/>
<circle cx="471.47" cy="475.71" r="1.2" fill="none" stroke="#111" stroke-width="1.25"/>
<path d="M467.44 415.86h4.4" stroke="#111" stroke-width="1.1" fill="none"/>
<circle cx="481.02" cy="420.31" r="1.2" fill="none" stroke="#111" stroke-width="1.25"/>
<circle cx="481.25" cy="421.32" r="1.2" fill="none" stroke="#111" stroke-width="1.25"/>
<circle cx="482.68" cy="475.65" r="1.2" fill="none" stroke="#111" stroke-width="1.25"/>
<circle cx="480.34" cy="476.28" r="1.2" fill="none" stroke="#111" stroke-width="1.25"/>
<path d="M480.12 419.63h4.4" stroke="#111" stroke-width="1.1" fill="none"/>
<ellipse cx="178.4" cy="438.1" rx="16" ry="53.8" fill="none" stroke="#ec1c24" stroke-width="3.4"/>
<g transform="translate(740.7 454) scale(0.8)">
<path d="M36.53 13.04C36.83 8.23 35.99 8.83 38.88 2.2C41.77 -4.43 39.48 -1.41 45.2 -6.84C50.93 -12.26 47.61 -10.15 56.05 -14.07C64.48 -17.98 60.26 -16.47 70.51 -18.58C80.75 -20.69 78.34 -18.88 86.77 -20.39C95.21 -21.9 90.99 -20.09 95.81 -23.1C100.63 -26.11 98.22 -24.01 101.23 -29.43C104.24 -34.85 101.23 -32.44 104.84 -39.37C108.46 -46.3 106.05 -43.59 112.07 -50.21C118.1 -56.84 114.48 -54.73 122.92 -59.25C131.35 -63.77 127.14 -62.86 137.38 -63.77C147.62 -64.67 144 -65.27 153.64 -61.96C163.28 -58.65 159.67 -60.75 166.29 -53.83C172.92 -46.9 170.51 -50.81 173.52 -41.18C176.54 -31.54 175.63 -35.75 175.33 -24.91C175.03 -14.07 175.63 -18.88 172.62 -8.64C169.61 1.6 172.02 -3.22 166.29 5.82C160.57 14.85 164.49 10.64 155.45 18.47C146.41 26.3 150.63 23.59 139.18 29.31C127.74 35.03 134.36 32.62 121.11 35.64C107.86 38.65 113.88 38.05 99.42 38.35C84.96 38.65 91.59 39.25 77.73 36.54C63.88 33.83 69 35.03 57.85 30.21C46.71 25.4 50.93 26.6 44.3 22.08C37.67 17.56 40.56 19.67 37.97 16.66C35.38 13.65 36.23 17.86 36.53 13.04Z" fill="#c5cfe5"/>
<path d="M40.68 13.04C41.17 8.83 40.38 9.01 43.4 3.1C46.41 -2.8 44.3 -0.15 49.72 -4.67C55.14 -9.19 51.83 -7.2 59.66 -10.45C67.49 -13.7 63.58 -12.5 73.22 -14.43C82.86 -16.35 79.84 -14.85 88.58 -16.23C97.31 -17.62 93.4 -15.39 99.42 -18.58C105.45 -21.78 102.74 -19.79 106.65 -25.81C110.57 -31.84 107.25 -29.43 111.17 -36.66C115.09 -43.89 112.68 -41.48 118.4 -47.5C124.12 -53.53 121.11 -51.12 128.34 -54.73C135.57 -58.34 131.95 -57.74 140.09 -58.34C148.22 -58.95 144.91 -59.55 152.74 -56.54C160.57 -53.53 157.98 -55.63 163.58 -49.31C169.19 -42.98 166.96 -45.99 169.55 -37.56C172.14 -29.13 171.72 -33.34 171.35 -24.01C170.99 -14.67 171.48 -18.88 168.46 -9.55C165.45 -0.21 167.86 -4.43 162.32 4.01C156.78 12.44 160.45 8.65 151.84 15.76C143.22 22.86 147.32 20.21 136.47 25.33C125.63 30.46 131.65 28.29 119.3 31.12C106.95 33.95 112.98 33.53 99.42 33.83C85.87 34.13 91.59 34.55 78.64 32.02C65.69 29.49 70.81 30.64 60.57 26.24C50.32 21.84 54.12 22.32 47.91 18.83C41.71 15.33 44.36 17.68 41.95 15.76C39.54 13.83 40.2 17.26 40.68 13.04Z" fill="#d3dbed" filter="url(#bl)"/>
<path d="M0 0H41V13H0ZM156.5 0H200V13H156.5ZM41 0C49 0 51.6 -9.8 59.6 -9.8H139C147 -9.8 148.5 0 156.5 0V4.5C150 4.5 147 -3.1 139 -3.1H59.6C51.6 -3.1 49 4.5 41 4.5ZM41 13C49 13 51.6 23 59.6 23H139C147 23 148.5 13 156.5 13V8.5C150 8.5 147 16.3 139 16.3H59.6C51.6 16.3 49 8.5 41 8.5ZM59.9 -1H144V5.4H59.9ZM148.8 -40C148.8 -47.8 160.5 -47.8 160.5 -40V-16.4H148.8Z" fill="rgba(255,255,255,0.45)"/>
<path d="M0 0H41C49 0 51.6 -9.8 59.6 -9.8H139C147 -9.8 148.5 0 156.5 0H200M0 13H41C49 13 51.6 23 59.6 23H139C147 23 148.5 13 156.5 13H200" fill="none" stroke="#32729b" stroke-width="1.4"/>
<path d="M1.9 0V13M6.83 0V13M11.76 0V13M16.69 0V13M21.62 0V13M26.55 0V13M31.48 0V13M36.41 0V13M41.34 0V13M159.3 0V13M164.25 0V13M169.2 0V13M174.15 0V13M179.1 0V13M184.05 0V13M189 0V13M193.95 0V13M198.9 0V13" fill="none" stroke="#32729b" stroke-width="1.2"/>
<path d="M45.2 -1.27v4.85M45.2 14.3v-4.85M50.15 -4.78v5.63M50.15 17.88v-5.63M55.1 -8.36v6.4M55.1 21.53v-6.4M60.05 -9.8v7.1M60.05 23v-7.1M65 -9.8v7.1M65 23v-7.1M69.95 -9.8v7.1M69.95 23v-7.1M74.9 -9.8v7.1M74.9 23v-7.1M79.85 -9.8v7.1M84.8 -9.8v7.1M84.8 23v-7.1M89.75 -9.8v7.1M89.75 23v-7.1M94.7 -9.8v7.1M94.7 23v-7.1M99.65 -9.8v7.1M99.65 23v-7.1M104.6 -9.8v7.1M104.6 23v-7.1M109.55 -9.8v7.1M109.55 23v-7.1M114.5 -9.8v7.1M114.5 23v-7.1M119.45 -9.8v7.1M119.45 23v-7.1M124.4 -9.8v7.1M124.4 23v-7.1M129.35 -9.8v7.1M129.35 23v-7.1M134.3 -9.8v7.1M134.3 23v-7.1M139.25 -9.79v7.06M139.25 22.99v-7.06M144.2 -7.72v6.24M144.2 20.88v-6.24M149.15 -3.73v5.42M149.15 16.81v-5.42M154.1 -0.5v4.6M154.1 13.51v-4.6" fill="none" stroke="#32729b" stroke-width="1.2"/>
<path d="M59.9 -1.2V5.4H144C148.8 5.4 148.8 2 148.8 -2V-40C148.8 -47.8 160.5 -47.8 160.5 -40V-17C160.5 -11.5 165 -10.5 169 -10.5H179" fill="none" stroke="#ee3d46" stroke-width="1.4"/>
<path d="M60.05 5.4v-6.4M65 5.4v-6.4M69.95 5.4v-6.4M74.9 5.4v-6.4M79.85 5.4v-6.4M84.8 5.4v-6.4M89.75 5.4v-6.4M94.7 5.4v-6.4M99.65 5.4v-6.4M104.6 5.4v-6.4M109.55 5.4v-6.4M114.5 5.4v-6.4M119.45 5.4v-6.4M124.4 5.4v-6.4M129.35 5.4v-6.4M134.3 5.4v-6.4M139.25 5.4v-6.4M148.8 -36H160.5M148.8 -31.1H160.5M148.8 -26.2H160.5M148.8 -21.3H160.5M148.8 -16.4H160.5" fill="none" stroke="#ee3d46" stroke-width="1.2"/>
<path d="M124.2 -16.4H128.7L126.45 -12.7Z" fill="#e31b23"/>
<text class="b" x="76.1" y="22.4" font-size="8.6" fill="#27aee6">A</text>
</g>
<g transform="translate(30.1 831.9) scale(1)">
<path d="M36.53 13.04C36.83 8.23 35.99 8.83 38.88 2.2C41.77 -4.43 39.48 -1.41 45.2 -6.84C50.93 -12.26 47.61 -10.15 56.05 -14.07C64.48 -17.98 60.26 -16.47 70.51 -18.58C80.75 -20.69 78.34 -18.88 86.77 -20.39C95.21 -21.9 90.99 -20.09 95.81 -23.1C100.63 -26.11 98.22 -24.01 101.23 -29.43C104.24 -34.85 101.23 -32.44 104.84 -39.37C108.46 -46.3 106.05 -43.59 112.07 -50.21C118.1 -56.84 114.48 -54.73 122.92 -59.25C131.35 -63.77 127.14 -62.86 137.38 -63.77C147.62 -64.67 144 -65.27 153.64 -61.96C163.28 -58.65 159.67 -60.75 166.29 -53.83C172.92 -46.9 170.51 -50.81 173.52 -41.18C176.54 -31.54 175.63 -35.75 175.33 -24.91C175.03 -14.07 175.63 -18.88 172.62 -8.64C169.61 1.6 172.02 -3.22 166.29 5.82C160.57 14.85 164.49 10.64 155.45 18.47C146.41 26.3 150.63 23.59 139.18 29.31C127.74 35.03 134.36 32.62 121.11 35.64C107.86 38.65 113.88 38.05 99.42 38.35C84.96 38.65 91.59 39.25 77.73 36.54C63.88 33.83 69 35.03 57.85 30.21C46.71 25.4 50.93 26.6 44.3 22.08C37.67 17.56 40.56 19.67 37.97 16.66C35.38 13.65 36.23 17.86 36.53 13.04Z" fill="#c5cfe5"/>
<path d="M40.68 13.04C41.17 8.83 40.38 9.01 43.4 3.1C46.41 -2.8 44.3 -0.15 49.72 -4.67C55.14 -9.19 51.83 -7.2 59.66 -10.45C67.49 -13.7 63.58 -12.5 73.22 -14.43C82.86 -16.35 79.84 -14.85 88.58 -16.23C97.31 -17.62 93.4 -15.39 99.42 -18.58C105.45 -21.78 102.74 -19.79 106.65 -25.81C110.57 -31.84 107.25 -29.43 111.17 -36.66C115.09 -43.89 112.68 -41.48 118.4 -47.5C124.12 -53.53 121.11 -51.12 128.34 -54.73C135.57 -58.34 131.95 -57.74 140.09 -58.34C148.22 -58.95 144.91 -59.55 152.74 -56.54C160.57 -53.53 157.98 -55.63 163.58 -49.31C169.19 -42.98 166.96 -45.99 169.55 -37.56C172.14 -29.13 171.72 -33.34 171.35 -24.01C170.99 -14.67 171.48 -18.88 168.46 -9.55C165.45 -0.21 167.86 -4.43 162.32 4.01C156.78 12.44 160.45 8.65 151.84 15.76C143.22 22.86 147.32 20.21 136.47 25.33C125.63 30.46 131.65 28.29 119.3 31.12C106.95 33.95 112.98 33.53 99.42 33.83C85.87 34.13 91.59 34.55 78.64 32.02C65.69 29.49 70.81 30.64 60.57 26.24C50.32 21.84 54.12 22.32 47.91 18.83C41.71 15.33 44.36 17.68 41.95 15.76C39.54 13.83 40.2 17.26 40.68 13.04Z" fill="#d3dbed" filter="url(#bl)"/>
<path d="M0 0H41V13H0ZM156.5 0H200V13H156.5ZM41 0C49 0 51.6 -9.8 59.6 -9.8H139C147 -9.8 148.5 0 156.5 0V4.5C150 4.5 147 -3.1 139 -3.1H59.6C51.6 -3.1 49 4.5 41 4.5ZM41 13C49 13 51.6 23 59.6 23H139C147 23 148.5 13 156.5 13V8.5C150 8.5 147 16.3 139 16.3H59.6C51.6 16.3 49 8.5 41 8.5ZM64.2 -1H144V5.4H64.2ZM148.8 -40C148.8 -47.8 160.5 -47.8 160.5 -40V-16.4H148.8Z" fill="rgba(255,255,255,0.45)"/>
<path d="M0 0H41C49 0 51.6 -9.8 59.6 -9.8H139C147 -9.8 148.5 0 156.5 0H200M0 13H41C49 13 51.6 23 59.6 23H139C147 23 148.5 13 156.5 13H200" fill="none" stroke="#32729b" stroke-width="1.4"/>
<path d="M1.9 0V13M6.83 0V13M11.76 0V13M16.69 0V13M21.62 0V13M26.55 0V13M31.48 0V13M36.41 0V13M41.34 0V13M159.3 0V13M164.25 0V13M169.2 0V13M174.15 0V13M179.1 0V13M184.05 0V13M189 0V13M193.95 0V13M198.9 0V13" fill="none" stroke="#32729b" stroke-width="1.2"/>
<path d="M45.2 -1.27v4.85M45.2 14.3v-4.85M50.15 -4.78v5.63M50.15 17.88v-5.63M55.1 -8.36v6.4M55.1 21.53v-6.4M60.05 -9.8v7.1M60.05 23v-7.1M65 -9.8v7.1M65 23v-7.1M69.95 -9.8v7.1M69.95 23v-7.1M74.9 -9.8v7.1M74.9 23v-7.1M79.85 -9.8v7.1M79.85 23v-7.1M84.8 -9.8v7.1M84.8 23v-7.1M89.75 -9.8v7.1M89.75 23v-7.1M94.7 -9.8v7.1M94.7 23v-7.1M99.65 -9.8v7.1M99.65 23v-7.1M104.6 -9.8v7.1M104.6 23v-7.1M109.55 -9.8v7.1M109.55 23v-7.1M114.5 -9.8v7.1M114.5 23v-7.1M119.45 -9.8v7.1M119.45 23v-7.1M124.4 -9.8v7.1M124.4 23v-7.1M129.35 -9.8v7.1M129.35 23v-7.1M134.3 -9.8v7.1M134.3 23v-7.1M139.25 -9.79v7.06M139.25 22.99v-7.06M144.2 -7.72v6.24M144.2 20.88v-6.24M149.15 -3.73v5.42M149.15 16.81v-5.42M154.1 -0.5v4.6M154.1 13.51v-4.6" fill="none" stroke="#32729b" stroke-width="1.2"/>
<path d="M64.2 -1.2V5.4H93.7C93.7 9.6 104.5 9.6 104.5 5.4H144C148.8 5.4 148.8 2 148.8 -2V-40C148.8 -47.8 160.5 -47.8 160.5 -40V-17C160.5 -11.5 165 -10.5 169 -10.5H179" fill="none" stroke="#ee3d46" stroke-width="1.4"/>
<path d="M69.95 5.4v-6.4M74.9 5.4v-6.4M79.85 5.4v-6.4M84.8 5.4v-6.4M89.75 5.4v-6.4M109.55 5.4v-6.4M114.5 5.4v-6.4M119.45 5.4v-6.4M124.4 5.4v-6.4M129.35 5.4v-6.4M134.3 5.4v-6.4M139.25 5.4v-6.4M148.8 -36H160.5M148.8 -31.1H160.5M148.8 -26.2H160.5M148.8 -21.3H160.5M148.8 -16.4H160.5" fill="none" stroke="#ee3d46" stroke-width="1.2"/>
<path d="M124.2 -16.4H128.7L126.45 -12.7Z" fill="#e31b23"/>
</g>
<g transform="translate(256.4 828.3) scale(1)">
<path d="M36.53 13.04C36.83 8.23 35.99 8.83 38.88 2.2C41.77 -4.43 39.48 -1.41 45.2 -6.84C50.93 -12.26 47.61 -10.15 56.05 -14.07C64.48 -17.98 60.26 -16.47 70.51 -18.58C80.75 -20.69 78.34 -18.88 86.77 -20.39C95.21 -21.9 90.99 -20.09 95.81 -23.1C100.63 -26.11 98.22 -24.01 101.23 -29.43C104.24 -34.85 101.23 -32.44 104.84 -39.37C108.46 -46.3 106.05 -43.59 112.07 -50.21C118.1 -56.84 114.48 -54.73 122.92 -59.25C131.35 -63.77 127.14 -62.86 137.38 -63.77C147.62 -64.67 144 -65.27 153.64 -61.96C163.28 -58.65 159.67 -60.75 166.29 -53.83C172.92 -46.9 170.51 -50.81 173.52 -41.18C176.54 -31.54 175.63 -35.75 175.33 -24.91C175.03 -14.07 175.63 -18.88 172.62 -8.64C169.61 1.6 172.02 -3.22 166.29 5.82C160.57 14.85 164.49 10.64 155.45 18.47C146.41 26.3 150.63 23.59 139.18 29.31C127.74 35.03 134.36 32.62 121.11 35.64C107.86 38.65 113.88 38.05 99.42 38.35C84.96 38.65 91.59 39.25 77.73 36.54C63.88 33.83 69 35.03 57.85 30.21C46.71 25.4 50.93 26.6 44.3 22.08C37.67 17.56 40.56 19.67 37.97 16.66C35.38 13.65 36.23 17.86 36.53 13.04Z" fill="#c5cfe5"/>
<path d="M40.68 13.04C41.17 8.83 40.38 9.01 43.4 3.1C46.41 -2.8 44.3 -0.15 49.72 -4.67C55.14 -9.19 51.83 -7.2 59.66 -10.45C67.49 -13.7 63.58 -12.5 73.22 -14.43C82.86 -16.35 79.84 -14.85 88.58 -16.23C97.31 -17.62 93.4 -15.39 99.42 -18.58C105.45 -21.78 102.74 -19.79 106.65 -25.81C110.57 -31.84 107.25 -29.43 111.17 -36.66C115.09 -43.89 112.68 -41.48 118.4 -47.5C124.12 -53.53 121.11 -51.12 128.34 -54.73C135.57 -58.34 131.95 -57.74 140.09 -58.34C148.22 -58.95 144.91 -59.55 152.74 -56.54C160.57 -53.53 157.98 -55.63 163.58 -49.31C169.19 -42.98 166.96 -45.99 169.55 -37.56C172.14 -29.13 171.72 -33.34 171.35 -24.01C170.99 -14.67 171.48 -18.88 168.46 -9.55C165.45 -0.21 167.86 -4.43 162.32 4.01C156.78 12.44 160.45 8.65 151.84 15.76C143.22 22.86 147.32 20.21 136.47 25.33C125.63 30.46 131.65 28.29 119.3 31.12C106.95 33.95 112.98 33.53 99.42 33.83C85.87 34.13 91.59 34.55 78.64 32.02C65.69 29.49 70.81 30.64 60.57 26.24C50.32 21.84 54.12 22.32 47.91 18.83C41.71 15.33 44.36 17.68 41.95 15.76C39.54 13.83 40.2 17.26 40.68 13.04Z" fill="#d3dbed" filter="url(#bl)"/>
<path d="M0 0H41V13H0ZM156.5 0H200V13H156.5ZM41 0C49 0 51.6 -9.8 59.6 -9.8H139C147 -9.8 148.5 0 156.5 0V4.5C150 4.5 147 -3.1 139 -3.1H59.6C51.6 -3.1 49 4.5 41 4.5ZM41 13C49 13 51.6 23 59.6 23H139C147 23 148.5 13 156.5 13V8.5C150 8.5 147 16.3 139 16.3H59.6C51.6 16.3 49 8.5 41 8.5ZM59.9 -1H144V5.4H59.9ZM148.8 -40C148.8 -47.8 160.5 -47.8 160.5 -40V-16.4H148.8Z" fill="rgba(255,255,255,0.45)"/>
<path d="M0 0H41C49 0 51.6 -9.8 59.6 -9.8H139C147 -9.8 148.5 0 156.5 0H200M0 13H41C49 13 51.6 23 59.6 23H139C147 23 148.5 13 156.5 13H200" fill="none" stroke="#32729b" stroke-width="1.4"/>
<path d="M1.9 0V13M6.83 0V13M11.76 0V13M16.69 0V13M21.62 0V13M26.55 0V13M31.48 0V13M36.41 0V13M41.34 0V13M159.3 0V13M164.25 0V13M169.2 0V13M174.15 0V13M179.1 0V13M184.05 0V13M189 0V13M193.95 0V13M198.9 0V13" fill="none" stroke="#32729b" stroke-width="1.2"/>
<path d="M45.2 -1.27v4.85M45.2 14.3v-4.85M50.15 -4.78v5.63M50.15 17.88v-5.63M55.1 -8.36v6.4M55.1 21.53v-6.4M60.05 -9.8v7.1M60.05 23v-7.1M65 -9.8v7.1M65 23v-7.1M69.95 -9.8v7.1M69.95 23v-7.1M74.9 -9.8v7.1M74.9 23v-7.1M79.85 -9.8v7.1M79.85 23v-7.1M84.8 -9.8v7.1M84.8 23v-7.1M89.75 -9.8v7.1M89.75 23v-7.1M94.7 -9.8v7.1M94.7 23v-7.1M99.65 -9.8v7.1M99.65 23v-7.1M104.6 -9.8v7.1M104.6 23v-7.1M109.55 -9.8v7.1M109.55 23v-7.1M114.5 -9.8v7.1M114.5 23v-7.1M119.45 -9.8v7.1M119.45 23v-7.1M124.4 -9.8v7.1M124.4 23v-7.1M129.35 -9.8v7.1M129.35 23v-7.1M134.3 -9.8v7.1M134.3 23v-7.1M139.25 -9.79v7.06M139.25 22.99v-7.06M144.2 -7.72v6.24M144.2 20.88v-6.24M149.15 -3.73v5.42M149.15 16.81v-5.42M154.1 -0.5v4.6M154.1 13.51v-4.6" fill="none" stroke="#32729b" stroke-width="1.2"/>
<path d="M59.9 -1.2V5.4H144C148.8 5.4 148.8 2 148.8 -2V-40C148.8 -47.8 160.5 -47.8 160.5 -40V-17C160.5 -11.5 165 -10.5 169 -10.5H179" fill="none" stroke="#ee3d46" stroke-width="1.4"/>
<path d="M60.05 5.4v-6.4M65 5.4v-6.4M69.95 5.4v-6.4M74.9 5.4v-6.4M79.85 5.4v-6.4M84.8 5.4v-6.4M89.75 5.4v-6.4M94.7 5.4v-6.4M99.65 5.4v-6.4M104.6 5.4v-6.4M109.55 5.4v-6.4M114.5 5.4v-6.4M119.45 5.4v-6.4M124.4 5.4v-6.4M129.35 5.4v-6.4M134.3 5.4v-6.4M139.25 5.4v-6.4M148.8 -36H160.5M148.8 -31.1H160.5M148.8 -26.2H160.5M148.8 -21.3H160.5M148.8 -16.4H160.5" fill="none" stroke="#ee3d46" stroke-width="1.2"/>
<path d="M80 -9.8V-17M75 -10.4H85" fill="none" stroke="#ee3d46" stroke-width="1.1"/>
<path d="M124.2 -16.4H128.7L126.45 -12.7Z" fill="#e31b23"/>
</g>
<g transform="translate(109.3 929.5) scale(1)">
<path d="M36.53 13.04C36.83 8.23 35.99 8.83 38.88 2.2C41.77 -4.43 39.48 -1.41 45.2 -6.84C50.93 -12.26 47.61 -10.15 56.05 -14.07C64.48 -17.98 60.26 -16.47 70.51 -18.58C80.75 -20.69 78.34 -18.88 86.77 -20.39C95.21 -21.9 90.99 -20.09 95.81 -23.1C100.63 -26.11 98.22 -24.01 101.23 -29.43C104.24 -34.85 101.23 -32.44 104.84 -39.37C108.46 -46.3 106.05 -43.59 112.07 -50.21C118.1 -56.84 114.48 -54.73 122.92 -59.25C131.35 -63.77 127.14 -62.86 137.38 -63.77C147.62 -64.67 144 -65.27 153.64 -61.96C163.28 -58.65 159.67 -60.75 166.29 -53.83C172.92 -46.9 170.51 -50.81 173.52 -41.18C176.54 -31.54 175.63 -35.75 175.33 -24.91C175.03 -14.07 175.63 -18.88 172.62 -8.64C169.61 1.6 172.02 -3.22 166.29 5.82C160.57 14.85 164.49 10.64 155.45 18.47C146.41 26.3 150.63 23.59 139.18 29.31C127.74 35.03 134.36 32.62 121.11 35.64C107.86 38.65 113.88 38.05 99.42 38.35C84.96 38.65 91.59 39.25 77.73 36.54C63.88 33.83 69 35.03 57.85 30.21C46.71 25.4 50.93 26.6 44.3 22.08C37.67 17.56 40.56 19.67 37.97 16.66C35.38 13.65 36.23 17.86 36.53 13.04Z" fill="#c5cfe5"/>
<path d="M40.68 13.04C41.17 8.83 40.38 9.01 43.4 3.1C46.41 -2.8 44.3 -0.15 49.72 -4.67C55.14 -9.19 51.83 -7.2 59.66 -10.45C67.49 -13.7 63.58 -12.5 73.22 -14.43C82.86 -16.35 79.84 -14.85 88.58 -16.23C97.31 -17.62 93.4 -15.39 99.42 -18.58C105.45 -21.78 102.74 -19.79 106.65 -25.81C110.57 -31.84 107.25 -29.43 111.17 -36.66C115.09 -43.89 112.68 -41.48 118.4 -47.5C124.12 -53.53 121.11 -51.12 128.34 -54.73C135.57 -58.34 131.95 -57.74 140.09 -58.34C148.22 -58.95 144.91 -59.55 152.74 -56.54C160.57 -53.53 157.98 -55.63 163.58 -49.31C169.19 -42.98 166.96 -45.99 169.55 -37.56C172.14 -29.13 171.72 -33.34 171.35 -24.01C170.99 -14.67 171.48 -18.88 168.46 -9.55C165.45 -0.21 167.86 -4.43 162.32 4.01C156.78 12.44 160.45 8.65 151.84 15.76C143.22 22.86 147.32 20.21 136.47 25.33C125.63 30.46 131.65 28.29 119.3 31.12C106.95 33.95 112.98 33.53 99.42 33.83C85.87 34.13 91.59 34.55 78.64 32.02C65.69 29.49 70.81 30.64 60.57 26.24C50.32 21.84 54.12 22.32 47.91 18.83C41.71 15.33 44.36 17.68 41.95 15.76C39.54 13.83 40.2 17.26 40.68 13.04Z" fill="#d3dbed" filter="url(#bl)"/>
<path d="M0 0H41V13H0ZM156.5 0H200V13H156.5ZM41 0C49 0 51.6 -9.8 59.6 -9.8H139C147 -9.8 148.5 0 156.5 0V4.5C150 4.5 147 -3.1 139 -3.1H59.6C51.6 -3.1 49 4.5 41 4.5ZM41 13C49 13 51.6 23 59.6 23H139C147 23 148.5 13 156.5 13V8.5C150 8.5 147 16.3 139 16.3H59.6C51.6 16.3 49 8.5 41 8.5ZM59.9 -1H144V5.4H59.9ZM148.8 -40C148.8 -47.8 160.5 -47.8 160.5 -40V-16.4H148.8Z" fill="rgba(255,255,255,0.45)"/>
<path d="M0 0H41C49 0 51.6 -9.8 59.6 -9.8H139C147 -9.8 148.5 0 156.5 0H200M0 13H41C49 13 51.6 23 59.6 23H139C147 23 148.5 13 156.5 13H200" fill="none" stroke="#32729b" stroke-width="1.4"/>
<path d="M1.9 0V13M6.83 0V13M11.76 0V13M16.69 0V13M21.62 0V13M26.55 0V13M31.48 0V13M36.41 0V13M41.34 0V13M159.3 0V13M164.25 0V13M169.2 0V13M174.15 0V13M179.1 0V13M184.05 0V13M189 0V13M193.95 0V13M198.9 0V13" fill="none" stroke="#32729b" stroke-width="1.2"/>
<path d="M45.2 -1.27v4.85M45.2 14.3v-4.85M50.15 -4.78v5.63M50.15 17.88v-5.63M55.1 -8.36v6.4M55.1 21.53v-6.4M60.05 -9.8v7.1M60.05 23v-7.1M65 -9.8v7.1M65 23v-7.1M69.95 -9.8v7.1M69.95 23v-7.1M74.9 -9.8v7.1M74.9 23v-7.1M79.85 -9.8v7.1M79.85 23v-7.1M84.8 -9.8v7.1M84.8 23v-7.1M89.75 -9.8v7.1M89.75 23v-7.1M94.7 -9.8v7.1M94.7 23v-7.1M99.65 -9.8v7.1M99.65 23v-7.1M104.6 -9.8v7.1M104.6 23v-7.1M109.55 -9.8v7.1M109.55 23v-7.1M114.5 -9.8v7.1M114.5 23v-7.1M119.45 -9.8v7.1M119.45 23v-7.1M124.4 -9.8v7.1M124.4 23v-7.1M129.35 -9.8v7.1M129.35 23v-7.1M134.3 -9.8v7.1M134.3 23v-7.1M139.25 -9.79v7.06M139.25 22.99v-7.06M144.2 -7.72v6.24M144.2 20.88v-6.24M149.15 -3.73v5.42M149.15 16.81v-5.42M154.1 -0.5v4.6M154.1 13.51v-4.6" fill="none" stroke="#32729b" stroke-width="1.2"/>
<path d="M59.9 -1.2V5.4H144C148.8 5.4 148.8 2 148.8 -2V-40C148.8 -47.8 160.5 -47.8 160.5 -40V-17C160.5 -11.5 165 -10.5 169 -10.5H179" fill="none" stroke="#ee3d46" stroke-width="1.4"/>
<path d="M60.05 5.4v-6.4M65 5.4v-6.4M69.95 5.4v-6.4M74.9 5.4v-6.4M79.85 5.4v-6.4M84.8 5.4v-6.4M89.75 5.4v-6.4M94.7 5.4v-6.4M99.65 5.4v-6.4M104.6 5.4v-6.4M109.55 5.4v-6.4M114.5 5.4v-6.4M119.45 5.4v-6.4M124.4 5.4v-6.4M129.35 5.4v-6.4M134.3 5.4v-6.4M139.25 5.4v-6.4M148.8 -36H160.5M148.8 -31.1H160.5M148.8 -26.2H160.5M148.8 -21.3H160.5M148.8 -16.4H160.5" fill="none" stroke="#ee3d46" stroke-width="1.2"/>
<path d="M94.7 -9.8C94.7 -14.2 103.7 -14.2 103.7 -9.8" fill="#e9eef7" stroke="#32729b" stroke-width="1.3"/>
<path d="M99.65 -13V-9.8" fill="none" stroke="#32729b" stroke-width="1.2"/>
</g>
<text class="b" x="42.9" y="804.4" font-size="16" fill="#231f20">RNA Bulge</text>
<text class="b" x="260" y="801.7" font-size="16.05" fill="#231f20">Mismatch</text>
<text class="b" x="121.9" y="902.3" font-size="16" fill="#231f20">DNA Bulge</text>
<g transform="translate(589.5 538.6)">
<path d="M0 -5.5V0H67.5C72.2 0 72.7 -3 72.7 -6.5V-36.7C72.7 -43.2 82 -43.2 82 -36.7V-18C82 -14 85 -12.8 88.5 -12.8H97" fill="none" stroke="#ea5a66" stroke-width="1.15"/>
<path d="M4.31 0v-5.5M12.33 0v-5.5M16.34 0v-5.5M20.35 0v-5.5M24.36 0v-5.5M28.37 0v-5.5M32.38 0v-5.5M36.39 0v-5.5M40.4 0v-5.5M44.41 0v-5.5M48.42 0v-5.5M52.43 0v-5.5M56.44 0v-5.5M60.45 0v-5.5M64.46 0v-5.5" fill="none" stroke="#ea5a66" stroke-width="1.05"/>
<path d="M72.7 -34H82M72.7 -29.9H82M72.7 -25.8H82M72.7 -21.7H82M72.7 -17.6H82" fill="none" stroke="#ea5a66" stroke-width="1.3"/>
<text class="b" x="5.92" y="0.2" font-size="6.6" fill="#231f20">A</text>
</g>
<g transform="translate(617.2 559.7)">
<path d="M0 -5.5V0H67.5C72.2 0 72.7 -3 72.7 -6.5V-36.7C72.7 -43.2 82 -43.2 82 -36.7V-18C82 -14 85 -12.8 88.5 -12.8H97" fill="none" stroke="#ea5a66" stroke-width="1.15"/>
<path d="M4.31 0v-5.5M8.32 0v-5.5M16.34 0v-5.5M20.35 0v-5.5M24.36 0v-5.5M28.37 0v-5.5M32.38 0v-5.5M36.39 0v-5.5M40.4 0v-5.5M44.41 0v-5.5M48.42 0v-5.5M52.43 0v-5.5M56.44 0v-5.5M60.45 0v-5.5M64.46 0v-5.5" fill="none" stroke="#ea5a66" stroke-width="1.05"/>
<path d="M72.7 -34H82M72.7 -29.9H82M72.7 -25.8H82M72.7 -21.7H82M72.7 -17.6H82" fill="none" stroke="#ea5a66" stroke-width="1.3"/>
<text class="b" x="9.93" y="0.2" font-size="6.6" fill="#231f20">A</text>
</g>
<g transform="translate(646.7 579.3)">
<path d="M0 -5.5V0H67.5C72.2 0 72.7 -3 72.7 -6.5V-36.7C72.7 -43.2 82 -43.2 82 -36.7V-18C82 -14 85 -12.8 88.5 -12.8H97" fill="none" stroke="#ea5a66" stroke-width="1.15"/>
<path d="M4.31 0v-5.5M8.32 0v-5.5M12.33 0v-5.5M20.35 0v-5.5M24.36 0v-5.5M28.37 0v-5.5M32.38 0v-5.5M36.39 0v-5.5M40.4 0v-5.5M44.41 0v-5.5M48.42 0v-5.5M52.43 0v-5.5M56.44 0v-5.5M60.45 0v-5.5M64.46 0v-5.5" fill="none" stroke="#ea5a66" stroke-width="1.05"/>
<path d="M72.7 -34H82M72.7 -29.9H82M72.7 -25.8H82M72.7 -21.7H82M72.7 -17.6H82" fill="none" stroke="#ea5a66" stroke-width="1.3"/>
<text class="b" x="13.94" y="0.2" font-size="6.6" fill="#231f20">A</text>
</g>
<g transform="translate(677.5 600.4)">
<path d="M0 -5.5V0H67.5C72.2 0 72.7 -3 72.7 -6.5V-36.7C72.7 -43.2 82 -43.2 82 -36.7V-18C82 -14 85 -12.8 88.5 -12.8H97" fill="none" stroke="#ea5a66" stroke-width="1.15"/>
<path d="M4.31 0v-5.5M8.32 0v-5.5M12.33 0v-5.5M16.34 0v-5.5M24.36 0v-5.5M28.37 0v-5.5M32.38 0v-5.5M36.39 0v-5.5M40.4 0v-5.5M44.41 0v-5.5M48.42 0v-5.5M52.43 0v-5.5M56.44 0v-5.5M60.45 0v-5.5M64.46 0v-5.5" fill="none" stroke="#ea5a66" stroke-width="1.05"/>
<path d="M72.7 -34H82M72.7 -29.9H82M72.7 -25.8H82M72.7 -21.7H82M72.7 -17.6H82" fill="none" stroke="#ea5a66" stroke-width="1.3"/>
<text class="b" x="17.95" y="0.2" font-size="6.6" fill="#231f20">A</text>
</g>
<g transform="translate(705.4 622.1)">
<path d="M0 -5.5V0H67.5C72.2 0 72.7 -3 72.7 -6.5V-36.7C72.7 -43.2 82 -43.2 82 -36.7V-18C82 -14 85 -12.8 88.5 -12.8H97" fill="none" stroke="#ea5a66" stroke-width="1.15"/>
<path d="M4.31 0v-5.5M8.32 0v-5.5M12.33 0v-5.5M16.34 0v-5.5M20.35 0v-5.5M28.37 0v-5.5M32.38 0v-5.5M36.39 0v-5.5M40.4 0v-5.5M44.41 0v-5.5M48.42 0v-5.5M52.43 0v-5.5M56.44 0v-5.5M60.45 0v-5.5M64.46 0v-5.5" fill="none" stroke="#ea5a66" stroke-width="1.05"/>
<path d="M72.7 -34H82M72.7 -29.9H82M72.7 -25.8H82M72.7 -21.7H82M72.7 -17.6H82" fill="none" stroke="#ea5a66" stroke-width="1.3"/>
<text class="b" x="21.96" y="0.2" font-size="6.6" fill="#231f20">A</text>
</g>
<g transform="translate(734.3 640.5)">
<path d="M0 -5.5V0H67.5C72.2 0 72.7 -3 72.7 -6.5V-36.7C72.7 -43.2 82 -43.2 82 -36.7V-18C82 -14 85 -12.8 88.5 -12.8H97" fill="none" stroke="#ea5a66" stroke-width="1.15"/>
<path d="M4.31 0v-5.5M8.32 0v-5.5M12.33 0v-5.5M16.34 0v-5.5M20.35 0v-5.5M24.36 0v-5.5M32.38 0v-5.5M36.39 0v-5.5M40.4 0v-5.5M44.41 0v-5.5M48.42 0v-5.5M52.43 0v-5.5M56.44 0v-5.5M60.45 0v-5.5M64.46 0v-5.5" fill="none" stroke="#ea5a66" stroke-width="1.05"/>
<path d="M72.7 -34H82M72.7 -29.9H82M72.7 -25.8H82M72.7 -21.7H82M72.7 -17.6H82" fill="none" stroke="#ea5a66" stroke-width="1.3"/>
<text class="b" x="25.97" y="0.2" font-size="6.6" fill="#231f20">A</text>
</g>
<g transform="translate(765.4 658.8)">
<path d="M0 -5.5V0H67.5C72.2 0 72.7 -3 72.7 -6.5V-36.7C72.7 -43.2 82 -43.2 82 -36.7V-18C82 -14 85 -12.8 88.5 -12.8H97" fill="none" stroke="#ea5a66" stroke-width="1.15"/>
<path d="M4.31 0v-5.5M8.32 0v-5.5M12.33 0v-5.5M16.34 0v-5.5M20.35 0v-5.5M24.36 0v-5.5M28.37 0v-5.5M36.39 0v-5.5M40.4 0v-5.5M44.41 0v-5.5M48.42 0v-5.5M52.43 0v-5.5M56.44 0v-5.5M60.45 0v-5.5M64.46 0v-5.5" fill="none" stroke="#ea5a66" stroke-width="1.05"/>
<path d="M72.7 -34H82M72.7 -29.9H82M72.7 -25.8H82M72.7 -21.7H82M72.7 -17.6H82" fill="none" stroke="#ea5a66" stroke-width="1.3"/>
<text class="b" x="29.98" y="0.2" font-size="6.6" fill="#231f20">A</text>
</g>
<path d="M883 523.86C883.33 520.51 882.5 521.35 884.51 517.84C886.51 514.32 885.18 515.83 889.02 513.32C892.87 510.81 890.7 511.81 896.05 510.31C901.41 508.8 899.06 509.64 905.09 508.8C911.11 507.96 909.61 508.8 914.12 507.8C918.64 506.79 916.3 507.8 918.64 505.79C920.99 503.78 919.31 505.45 921.15 501.77C922.99 498.09 921.49 499.09 924.16 494.74C926.84 490.39 925.17 492.07 929.18 488.72C933.2 485.37 931.19 486.38 936.21 484.7C941.23 483.03 938.89 483.2 944.24 483.7C949.6 484.2 947.59 483.37 952.28 486.21C956.96 489.05 955.12 487.38 958.3 492.23C961.48 497.09 960.48 494.91 961.82 500.77C963.15 506.63 962.99 503.78 962.32 509.8C961.65 515.83 962.48 512.82 959.81 518.84C957.13 524.86 959.14 522.35 954.29 527.88C949.43 533.4 951.94 531.39 945.25 535.41C938.56 539.42 942.24 537.75 934.2 539.92C926.17 542.1 929.85 541.43 921.15 541.93C912.45 542.43 916.47 542.6 908.1 541.43C899.73 540.26 902.91 541.26 896.05 538.42C889.19 535.57 891.7 536.41 887.52 532.9C883.33 529.38 885.01 530.89 883.5 527.88C882 524.86 882.67 527.21 883 523.86Z" fill="#c5d0e6"/>
<path d="M885.01 524.36C885.41 521.52 884.67 522.09 887.02 518.84C889.36 515.59 887.69 516.9 892.04 514.62C896.39 512.35 894.04 513.29 900.07 512.01C906.09 510.74 903.41 511.38 910.11 510.81C916.8 510.24 914.46 511.04 920.15 510.31C925.84 509.57 923.76 511.11 927.18 508.6C930.59 506.09 928.05 507.06 930.39 502.78C932.73 498.49 930.93 499.7 934.2 495.75C937.48 491.8 935.88 492.94 940.23 490.93C944.58 488.92 942.57 488.95 947.26 489.72C951.94 490.49 950.44 489.56 954.29 493.24C958.13 496.92 956.96 495.25 958.8 500.77C960.64 506.29 960.31 503.95 959.81 509.8C959.31 515.66 959.81 512.82 957.3 518.34C954.79 523.86 956.63 521.35 952.28 526.37C947.93 531.39 950.44 529.62 944.24 533.4C938.05 537.18 941.4 535.61 933.7 537.72C926.01 539.82 929.52 539.26 921.15 539.72C912.79 540.19 916.47 540.23 908.6 539.12C900.74 538.02 903.92 538.99 897.56 536.41C891.2 533.83 893.44 534.4 889.53 531.39C885.61 528.38 887.32 529.72 885.81 527.37C884.31 525.03 884.61 527.21 885.01 524.36Z" fill="#d3dcee" filter="url(#bl)"/>
<text class="b" x="905.2" y="527.3" font-size="9.55" fill="#231f20">ABE8.8</text>
<path d="M828.6 585.46C828.93 582.11 828.1 582.95 830.11 579.44C832.11 575.92 830.78 577.43 834.62 574.92C838.47 572.41 836.3 573.41 841.65 571.91C847.01 570.4 844.66 571.24 850.69 570.4C856.71 569.56 855.21 570.4 859.72 569.4C864.24 568.39 861.9 569.4 864.24 567.39C866.59 565.38 864.91 567.05 866.75 563.37C868.59 559.69 867.09 560.69 869.76 556.34C872.44 551.99 870.77 553.67 874.78 550.32C878.8 546.97 876.79 547.98 881.81 546.3C886.83 544.63 884.49 544.8 889.84 545.3C895.2 545.8 893.19 544.97 897.88 547.81C902.56 550.65 900.72 548.98 903.9 553.83C907.08 558.69 906.08 556.51 907.42 562.37C908.75 568.23 908.59 565.38 907.92 571.4C907.25 577.43 908.08 574.42 905.41 580.44C902.73 586.46 904.74 583.95 899.89 589.48C895.03 595 897.54 592.99 890.85 597.01C884.16 601.02 887.84 599.35 879.8 601.52C871.77 603.7 875.45 603.03 866.75 603.53C858.05 604.03 862.07 604.2 853.7 603.03C845.33 601.86 848.51 602.86 841.65 600.02C834.79 597.17 837.3 598.01 833.12 594.5C828.93 590.98 830.61 592.49 829.1 589.48C827.6 586.46 828.27 588.81 828.6 585.46Z" fill="#c5d0e6"/>
<path d="M830.61 585.96C831.01 583.12 830.27 583.69 832.62 580.44C834.96 577.19 833.29 578.5 837.64 576.22C841.99 573.95 839.64 574.89 845.67 573.61C851.69 572.34 849.01 572.98 855.71 572.41C862.4 571.84 860.06 572.64 865.75 571.91C871.44 571.17 869.36 572.71 872.78 570.2C876.19 567.69 873.65 568.66 875.99 564.38C878.33 560.09 876.53 561.3 879.8 557.35C883.08 553.4 881.48 554.54 885.83 552.53C890.18 550.52 888.17 550.55 892.86 551.32C897.54 552.09 896.04 551.16 899.89 554.84C903.73 558.52 902.56 556.85 904.4 562.37C906.24 567.89 905.91 565.55 905.41 571.4C904.91 577.26 905.41 574.42 902.9 579.94C900.39 585.46 902.23 582.95 897.88 587.97C893.53 592.99 896.04 591.22 889.84 595C883.65 598.78 887 597.21 879.3 599.32C871.61 601.42 875.12 600.86 866.75 601.32C858.39 601.79 862.07 601.83 854.2 600.72C846.34 599.62 849.52 600.59 843.16 598.01C836.8 595.43 839.04 596 835.13 592.99C831.21 589.98 832.92 591.32 831.41 588.97C829.91 586.63 830.21 588.81 830.61 585.96Z" fill="#d3dcee" filter="url(#bl)"/>
<text class="b" x="851.4" y="587.9" font-size="9.55" fill="#231f20">ABE8.20</text>
<path d="M891.5 615.06C891.83 611.71 891 612.55 893.01 609.04C895.01 605.52 893.68 607.03 897.52 604.52C901.37 602.01 899.2 603.01 904.55 601.51C909.91 600 907.56 600.84 913.59 600C919.61 599.16 918.11 600 922.62 599C927.14 597.99 924.8 599 927.14 596.99C929.49 594.98 927.81 596.65 929.65 592.97C931.49 589.29 929.99 590.29 932.66 585.94C935.34 581.59 933.67 583.27 937.68 579.92C941.7 576.57 939.69 577.58 944.71 575.9C949.73 574.23 947.39 574.4 952.74 574.9C958.1 575.4 956.09 574.57 960.78 577.41C965.46 580.25 963.62 578.58 966.8 583.43C969.98 588.29 968.98 586.11 970.32 591.97C971.65 597.83 971.49 594.98 970.82 601C970.15 607.03 970.98 604.02 968.31 610.04C965.63 616.06 967.64 613.55 962.79 619.08C957.93 624.6 960.44 622.59 953.75 626.61C947.06 630.62 950.74 628.95 942.7 631.12C934.67 633.3 938.35 632.63 929.65 633.13C920.95 633.63 924.97 633.8 916.6 632.63C908.23 631.46 911.41 632.46 904.55 629.62C897.69 626.77 900.2 627.61 896.02 624.1C891.83 620.58 893.51 622.09 892 619.08C890.5 616.06 891.17 618.41 891.5 615.06Z" fill="#c5d0e6"/>
<path d="M893.51 615.56C893.91 612.72 893.17 613.29 895.52 610.04C897.86 606.79 896.19 608.1 900.54 605.82C904.89 603.55 902.54 604.49 908.57 603.21C914.59 601.94 911.91 602.58 918.61 602.01C925.3 601.44 922.96 602.24 928.65 601.51C934.34 600.77 932.26 602.31 935.68 599.8C939.09 597.29 936.55 598.26 938.89 593.98C941.23 589.69 939.43 590.9 942.7 586.95C945.98 583 944.38 584.14 948.73 582.13C953.08 580.12 951.07 580.15 955.76 580.92C960.44 581.69 958.94 580.76 962.79 584.44C966.63 588.12 965.46 586.45 967.3 591.97C969.14 597.49 968.81 595.15 968.31 601C967.81 606.86 968.31 604.02 965.8 609.54C963.29 615.06 965.13 612.55 960.78 617.57C956.43 622.59 958.94 620.82 952.74 624.6C946.55 628.38 949.9 626.81 942.2 628.92C934.51 631.02 938.02 630.46 929.65 630.92C921.29 631.39 924.97 631.43 917.1 630.32C909.24 629.22 912.42 630.19 906.06 627.61C899.7 625.03 901.94 625.6 898.03 622.59C894.11 619.58 895.82 620.92 894.31 618.57C892.81 616.23 893.11 618.41 893.51 615.56Z" fill="#d3dcee" filter="url(#bl)"/>
<text class="b" x="913.4" y="617.9" font-size="9.55" fill="#231f20">ABE8e</text>
<text class="b" x="859.5" y="497.1" font-size="9.62" fill="#231f20">SpRY/SpG</text>
<text class="b" transform="translate(807.4 541.7) scale(0.955 1)" font-size="48.2" fill="#231f20" stroke="#231f20" stroke-width="1.6" stroke-linejoin="round">&amp;</text>
<path d="M696.39 790.96C698.55 789.12 698.71 788.15 702.89 785.42C707.07 782.69 705.3 782.85 708.92 782.77C712.53 782.69 710.52 781.81 713.73 785.18C716.95 788.55 715.18 789.12 718.55 792.89C721.93 796.67 720.24 796.1 723.86 796.51C727.47 796.91 725.54 796.1 729.4 794.1C733.25 792.09 731 791.69 735.42 790.48C739.84 789.28 737.83 789.28 742.65 790.48C747.47 791.69 745.06 790.08 749.88 794.1C754.7 798.11 752.29 794.9 757.11 802.53C761.93 810.16 759.52 806.55 764.34 816.99C769.16 827.43 766.75 823.01 771.57 833.86C776.39 844.7 773.98 839.08 778.8 849.52C783.61 859.96 781.2 855.14 786.02 865.18C790.84 875.22 788.43 870.4 793.25 879.64C798.07 888.88 795.66 884.86 800.48 892.89C805.3 900.92 802.89 897.47 807.71 903.73C812.53 910 809.32 907.11 814.94 911.69C820.56 916.27 817.35 914.26 824.58 917.47C831.81 920.68 826.99 919.32 836.63 921.33C846.27 923.33 841.45 922.45 853.49 923.49C865.54 924.54 859.92 924.22 872.77 924.46C885.62 924.7 880.08 924.62 892.05 924.22C904.02 923.82 903.13 923.57 908.67 923.25" fill="none" stroke="#cc3f9b" stroke-width="3.9"/>
<path d="M696.39 796.99C698.15 794.82 697.51 794.5 701.69 790.48C705.86 786.47 703.29 787.59 708.92 784.94C714.54 782.29 712.13 783.09 718.55 782.53C724.98 781.97 720.96 781.81 728.19 783.25C735.42 784.7 732.21 784.46 740.24 786.87C748.27 789.28 745.06 789.68 752.29 790.48C759.52 791.29 755.5 791.12 761.93 789.28C768.35 787.43 765.14 787.35 771.57 784.94C777.99 782.53 774.78 783.17 781.2 782.05C787.63 780.92 784.42 781.16 790.84 781.57C797.27 781.97 793.25 781.89 800.48 783.25C807.71 784.62 804.5 784.86 812.53 785.66C820.56 786.47 816.55 786.47 824.58 785.66C832.61 784.86 829.4 784.7 836.63 783.25C843.86 781.81 839.84 781.73 846.27 781.33C852.69 780.92 848.67 780.6 855.9 782.05C863.13 783.49 859.92 783.41 867.95 785.66C875.98 787.91 873.57 787.99 880 788.8C886.43 789.6 882.81 789.12 887.23 788.07C891.65 787.03 890.04 787.27 893.25 785.66C896.47 784.06 895.66 784.06 896.87 783.25" fill="none" stroke="#f6a2c8" stroke-width="3.9"/>
<path d="M689.05 735.8V930.4H908.8" fill="none" stroke="#231f20" stroke-width="5" stroke-linejoin="miter"/>
<path d="M689.2 883.8H905.7" fill="none" stroke="#231f20" stroke-width="3.9" stroke-dasharray="15.4 16.3" stroke-dashoffset="11.8"/>
<text class="b" x="720.7" y="756.1" font-size="26.2" fill="#231f20">c.1066-11G&gt;A</text>
<text class="b" x="847.8" y="807.6" font-size="15.6" fill="#231f20">Untreated mice</text>
<text class="b" x="847.2" y="878.8" font-size="15.65" fill="#231f20">Healthy Phe level</text>
<text class="b" x="848" y="915.5" font-size="15.65" fill="#231f20">Treated Mice</text>
<text class="b" x="775.7" y="961.7" font-size="25.5" fill="#231f20">Time</text>
<text class="b" transform="translate(677.5 854.3) rotate(-90)" font-size="25.8" fill="#231f20">[Phe]</text>
<text x="671.5" y="977.1" font-size="9.7" textLength="304" lengthAdjust="spacingAndGlyphs" fill="#333">mouse icon by Ethan Tyler and Lex Kravitz, CRISPR_Cas9 icon by Marcel Tisch</text>
<path d="M609.22 896.87C606.61 896.95 608.01 896.71 601.39 897.11C594.76 897.51 597.37 896.75 589.34 898.07C581.31 899.4 584.52 898.47 577.29 901.08C570.06 903.69 574.08 901.89 567.65 905.9C561.22 909.92 563.63 908.11 558.01 913.13C552.39 918.15 554.4 915.94 550.78 920.96C547.17 925.98 548.45 923.78 547.17 928.19C545.88 932.61 546.33 930.6 546.93 934.22C547.53 937.83 546.89 935.42 548.98 939.04C551.06 942.65 550.58 941.65 553.19 945.06C555.8 948.47 555.6 947.87 556.81 949.28M546.57 930.6C544.76 931.81 545.76 931.81 541.14 934.22C536.53 936.63 538.73 936.02 532.71 937.83C526.69 939.64 528.29 939.24 523.07 939.64C517.85 940.04 519.66 940.04 517.05 939.04C514.44 938.03 515.24 938.43 515.24 936.63C515.24 934.82 514.44 935.62 517.05 933.61C519.66 931.61 518.86 932.09 523.07 930.6C527.29 929.12 527.49 929.64 529.7 929.16M548.98 937.83C546.37 938.63 546.97 938.63 541.14 940.24C535.32 941.85 537.93 941.45 531.51 942.65C525.08 943.86 527.29 944.06 521.87 943.86C516.45 943.65 518.45 943.86 515.24 942.05C512.03 940.24 512.83 940.84 512.23 938.43C511.63 936.02 511.43 937.03 513.43 934.82C515.44 932.61 514.64 933.41 518.25 931.81C521.87 930.2 520.46 930.88 524.28 930C528.09 929.12 527.89 929.44 529.7 929.16M556.81 949.28C556.41 949.96 555.12 950.92 555.6 951.33C556.08 951.73 556.65 951.53 558.25 950.48C559.86 949.44 559.3 947.99 560.42 948.19C561.55 948.39 560.42 949.64 561.63 951.08C562.83 952.53 562.99 953.13 564.04 952.53C565.08 951.93 563.63 949.48 564.76 949.28C565.88 949.08 566.04 952.05 567.41 951.93C568.78 951.81 567.81 949.2 568.86 948.92C569.9 948.63 569.82 951.57 570.54 951.08C571.27 950.6 571.59 949.48 571.02 947.47C570.46 945.46 571.18 946.47 568.86 945.06C566.53 943.65 567.25 944.26 564.04 943.25C560.82 942.25 560.82 942.45 559.22 942.05M568.86 944.46C571.67 944.06 570.46 944.26 577.29 943.25C584.12 942.25 582.11 942.65 589.34 941.45C596.57 940.24 593.76 939.84 598.98 939.64C604.2 939.44 601.39 939.04 605 940.84C608.61 942.65 606.61 942.05 609.82 945.06C613.03 948.07 611.83 947.39 614.64 949.88C617.45 952.37 617.05 951.65 618.25 952.53M573.67 924.58C574.88 926.18 575.88 926.18 577.29 929.4C578.69 932.61 579.1 930.6 577.89 934.22C576.69 937.83 575.08 938.23 573.67 940.24M627.65 894.7C628.82 894.33 627.99 894.06 631.16 893.59C634.34 893.13 633.01 892.79 637.19 893.29C641.37 893.8 637.69 892.49 643.71 895.1C649.74 897.71 648.73 897.61 655.26 901.12C661.79 904.64 659.01 902.63 663.29 905.64C667.58 908.65 666.2 907.72 668.11 910.16C670.02 912.6 669.28 910.96 669.02 912.97C668.75 914.98 668.61 914.78 667.31 916.18C666 917.59 666.1 917.36 665.1 917.19C664.1 917.02 664.56 916.18 664.3 915.68M630.96 893.29C631.2 891.55 630.26 891.08 631.67 888.07C633.07 885.06 632.67 885.66 635.18 884.26C637.69 882.85 636.85 882.58 639.2 883.86C641.54 885.13 640.7 884.32 642.21 888.07C643.71 891.82 643.21 892.76 643.71 895.1M665.1 919C663.49 919.9 663.56 920.47 660.28 921.71C657 922.95 659.95 921.87 655.26 922.71C650.58 923.55 652.25 922.88 646.22 924.22C640.2 925.56 642.54 924.72 637.19 926.73C631.83 928.73 634.85 927.06 630.16 930.24C625.48 933.42 627.65 932.92 623.13 936.27C618.61 939.61 618.78 938.94 616.61 940.28M616.1 939.28C616.44 940.95 615.77 940.95 617.11 944.3C618.45 947.64 617.78 946.57 620.12 949.32C622.46 952.06 621.79 951.79 624.14 952.53C626.48 953.27 625.91 952.7 627.15 951.53C628.39 950.35 628.69 950.42 627.85 949.02C627.01 947.61 627.05 947.71 624.64 947.31C622.23 946.91 622.63 946.81 620.62 947.81C618.61 948.82 620.05 948.65 618.61 950.32C617.18 951.99 618.65 954 616.31 952.83C613.96 951.66 613.16 948.82 611.59 946.81M623.63 936.77C624.97 936.27 624.81 936.1 627.65 935.26C630.5 934.42 629.49 933.92 632.17 934.26C634.85 934.59 634.61 934.59 635.68 936.27C636.75 937.94 636.62 937.87 635.38 939.28C634.14 940.68 633.98 940.75 631.97 940.48C629.96 940.21 631.47 938.88 629.36 938.47C627.25 938.07 627.55 939.34 625.64 939.28C623.73 939.21 624.3 938.61 623.63 938.27" fill="none" stroke="#1f1f1f" stroke-width="0.75" stroke-linecap="round" stroke-linejoin="round"/>
<path d="M627.65 899.12C626.98 898.18 627.82 898.11 625.64 896.31C623.47 894.5 624.64 894.83 621.12 893.69C617.61 892.56 618.61 892.36 615.1 892.89C611.59 893.43 612.59 892.89 610.58 895.3C608.57 897.71 608.57 896.17 609.08 900.12C609.58 904.07 608.74 903.47 612.09 907.15C615.44 910.83 614.43 909.42 619.12 911.16C623.8 912.9 623.4 912.7 626.14 912.37C628.89 912.03 626.95 910.9 627.35 910.16" fill="none" stroke="#1f1f1f" stroke-width="1" stroke-linecap="round"/>
<path d="M625.64 898.61C624.64 900.46 622.63 900.29 622.63 904.14C622.63 907.99 624.64 908.15 625.64 910.16M627.65 899.12C627.92 901.12 628.55 900.86 628.45 905.14C628.35 909.42 627.72 909.69 627.35 911.97" fill="none" stroke="#1f1f1f" stroke-width="0.7" stroke-linecap="round"/>
<path d="M659.28 916.39L644.72 935.46M659.28 916.39L651.04 935.26M659.28 916.39L655.26 936.47M659.28 916.39L663.49 929.44M659.28 916.39L669.52 925.42" fill="none" stroke="#777" stroke-width="0.4"/>
<circle cx="647.03" cy="908.15" r="3.3" fill="#111"/>
<circle cx="647.53" cy="907.45" r="0.9" fill="#fff"/>
</svg></body></html>
